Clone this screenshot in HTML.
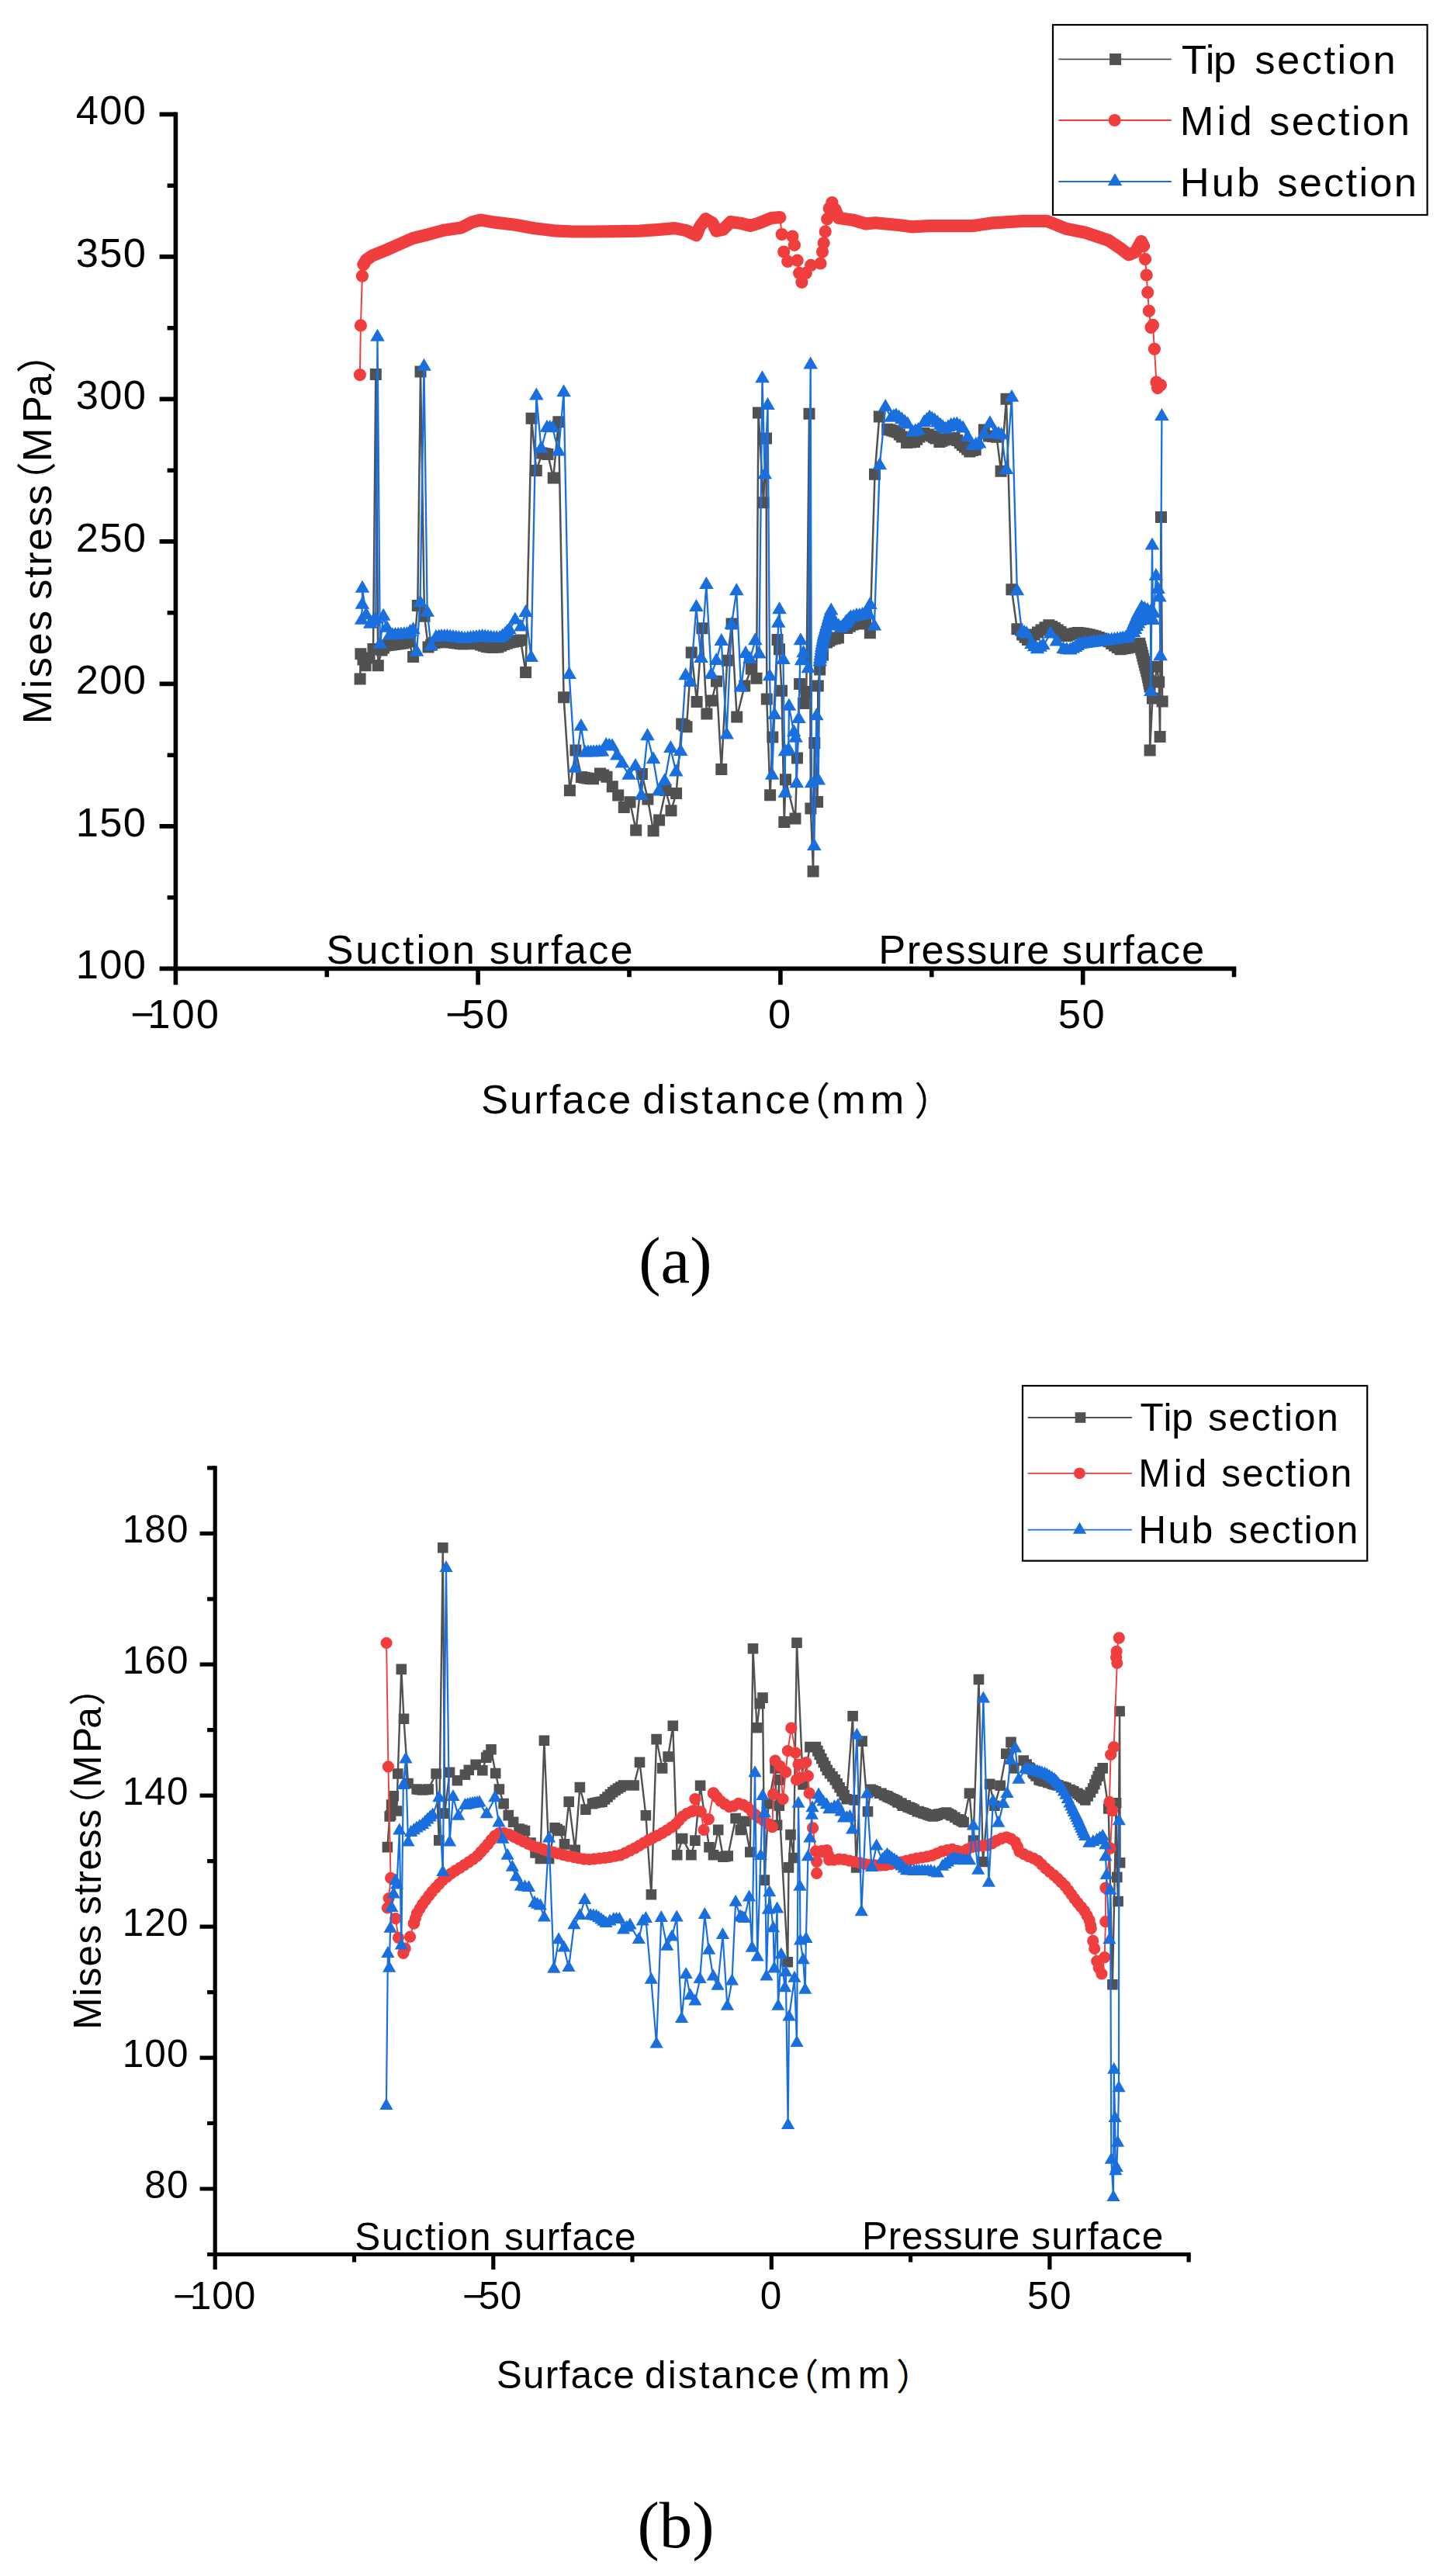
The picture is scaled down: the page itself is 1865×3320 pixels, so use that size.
<!DOCTYPE html>
<html lang="en"><head><meta charset="utf-8"><title>Mises stress distribution</title>
<style>
html,body{margin:0;padding:0;background:#fff}
svg{display:block}
text{font-family:'Liberation Sans','Noto Sans CJK JP',sans-serif;fill:#000;font-kerning:none;font-variant-ligatures:none;white-space:pre}
.cj{font-family:'Liberation Sans','Noto Sans CJK JP',sans-serif}
</style></head><body>
<svg width="1865" height="3320" viewBox="0 0 1865 3320">
<rect width="1865" height="3320" fill="#fff"/>
<g id="chartA">
<g fill="none" stroke="#000" stroke-width="5.6"><path d="M226.4 144.6V1269.2" /><path d="M223.6 1248.4H1593.3" /><path d="M616.1 1248.4v20.8M1005.9 1248.4v20.8M1395.7 1248.4v20.8M421.3 1248.4v10.8M811 1248.4v10.8M1200.8 1248.4v10.8M1590.5 1248.4v10.8M226.4 1248.4h-20.8M226.4 1064.9h-20.8M226.4 881.4h-20.8M226.4 697.9h-20.8M226.4 514.4h-20.8M226.4 330.9h-20.8M226.4 147.4h-20.8M226.4 1156.7h-10.8M226.4 973.2h-10.8M226.4 789.7h-10.8M226.4 606.2h-10.8M226.4 422.7h-10.8M226.4 239.2h-10.8" /></g>
<path d="M464.1 875.1L464.9 842.8L468 850L471.1 857.7L476 848L481 836.5L484.3 482.6L487.3 857.7L492 838L494.5 835L497 832L500.8 831.5L504.5 831L508.2 830.5L512 830L515.8 829.5L519.5 829L523.2 828L527 827L532.6 846.5L538.3 780.6L542 479.1L547 794.3L552 834.1L555.8 831.3L559.5 828.5L563.2 828L567 827.5L570.8 827.5L574.5 827.5L578.2 827.8L582 828L585.8 828.5L589.5 829L593.2 829.5L597 830L600.8 829.8L604.5 829.5L608.2 829L612 828.5L615.8 829.8L619.5 831L623.2 832.2L627 833.5L630.8 834L634.5 834.5L638.2 834.2L642 834L645.8 832.2L649.5 830.5L653.2 829.2L657 828L661.1 827.2L665.2 826.5L668.1 825.8L671 825L677.6 866.4L685.1 539.3L691.3 606.5L698.7 584.1L702.4 584.8L706 585.4L713.2 616L719.9 543.8L726.6 898.7L734.4 1018.8L741.9 967.1L749.4 1001.4L753.2 1002.2L757 1003L760.8 1003.4L764.5 1003.7L773.5 997L777.8 999.1L782 1001.2L789.3 1013.7L796.7 1025L804.3 1040.5L812 1033.8L819.7 1070L827.4 997.5L834.9 1030L842.1 1070.7L849.6 1057L858 1018.6L865 1044.8L871.6 1022.4L878.7 933L881.9 934.9L885 936.7L891.2 841L898.1 904.4L904.9 809.7L910.9 920L917.3 903L923.5 878.1L929.8 991.5L937.2 851.3L943.1 804L949.7 924.1L959.7 884L968.3 862L975 874.3L977.5 532.1L984 647.7L987.5 565.1L988.3 901L992.6 1024.7L995.8 950L1002 824.4L1004.5 836.8L1007.5 890.3L1010.8 1059.5L1012.5 1004.8L1025 1055L1027.5 976.9L1030.6 881.6L1035.6 906.5L1039.3 891.6L1043 533.3L1044.9 1042.1L1048.1 1123L1049.8 957.5L1053.6 1033.4L1054.3 884.1L1056.7 863L1060.5 844.3L1065.4 828.1L1068.7 826L1072 824L1076.2 823L1080.4 821.9L1091.6 809.5L1095.3 807.2L1099 805L1102.8 804.1L1106.5 803.2L1110.2 803.6L1114 804L1121.4 815.7L1127.5 611.2L1133.3 537L1143.7 553.2L1146.8 554.1L1150 555L1153.1 556L1156.2 556.9L1159.3 560L1162.4 563L1168.6 570.6L1173.5 570L1178.5 569.4L1181.8 566.2L1185 563L1188 560.6L1191 558.2L1196 560L1200.9 561.9L1203.5 563.5L1206 565L1210.9 569.4L1214 568.2L1217 567L1220.2 566.3L1223.3 565.6L1226.7 565L1230 564.5L1233.7 567.6L1237.3 570.7L1240.4 573.4L1243.5 576L1246.7 579L1249.8 581.9L1253.5 580.6L1257.2 579.4L1268.4 554L1274.6 562L1279.6 562.6L1284.6 563.2L1290.1 607.3L1297 514.2L1303.9 759.7L1310.9 810.7L1317.7 818L1321.1 821.2L1324.5 824.4L1328.8 821.2L1333 818L1337.5 815L1342 811.9L1347 808.8L1351.9 805.7L1355.7 807.5L1359.4 809.4L1363.2 812L1367 814.5L1370.7 817L1374.3 819.4L1378 818.2L1381.7 817L1385.5 816.3L1389.2 815.6L1393 816L1396.7 816.5L1400.5 817.3L1404.2 818.1L1408.1 819L1412 820L1416 821.5L1420 823L1424.5 824.9L1429 826.8L1432.8 829.4L1436.5 832L1440.2 834.4L1444 836.8L1447 836.1L1450 835.5L1453.2 834.9L1456.4 834.3L1459.5 833.1L1462.6 832L1465.7 830.6L1468.8 829.3L1468.8 829.3L1469.8 833.3L1470.8 837.3L1471.8 841.2L1472.8 845.2L1473.8 849.2L1473.8 849.2L1474.8 853.2L1475.8 857.2L1476.8 861.1L1477.8 865.1L1478.8 869.1L1478.8 869.1L1479.6 873.1L1480.4 877L1481.2 881L1482 885L1482.1 967L1485.4 900L1491.2 859.2L1493.7 879.1L1495.1 949.5L1496.5 666.4L1498.1 903.9" fill="none" stroke="#515151" stroke-width="2.5" stroke-linejoin="round" /><path d="M456.6 867.6h15v15h-15zM457.4 835.3h15v15h-15zM460.5 842.5h15v15h-15zM463.6 850.2h15v15h-15zM468.5 840.5h15v15h-15zM473.5 829h15v15h-15zM476.8 475.1h15v15h-15zM479.8 850.2h15v15h-15zM484.5 830.5h15v15h-15zM487 827.5h15v15h-15zM489.5 824.5h15v15h-15zM493.2 824h15v15h-15zM497 823.5h15v15h-15zM500.8 823h15v15h-15zM504.5 822.5h15v15h-15zM508.2 822h15v15h-15zM512 821.5h15v15h-15zM515.8 820.5h15v15h-15zM519.5 819.5h15v15h-15zM525.1 839h15v15h-15zM530.8 773.1h15v15h-15zM534.5 471.6h15v15h-15zM539.5 786.8h15v15h-15zM544.5 826.6h15v15h-15zM548.2 823.8h15v15h-15zM552 821h15v15h-15zM555.8 820.5h15v15h-15zM559.5 820h15v15h-15zM563.2 820h15v15h-15zM567 820h15v15h-15zM570.8 820.2h15v15h-15zM574.5 820.5h15v15h-15zM578.2 821h15v15h-15zM582 821.5h15v15h-15zM585.8 822h15v15h-15zM589.5 822.5h15v15h-15zM593.2 822.2h15v15h-15zM597 822h15v15h-15zM600.8 821.5h15v15h-15zM604.5 821h15v15h-15zM608.2 822.2h15v15h-15zM612 823.5h15v15h-15zM615.8 824.8h15v15h-15zM619.5 826h15v15h-15zM623.2 826.5h15v15h-15zM627 827h15v15h-15zM630.8 826.8h15v15h-15zM634.5 826.5h15v15h-15zM638.2 824.8h15v15h-15zM642 823h15v15h-15zM645.8 821.8h15v15h-15zM649.5 820.5h15v15h-15zM653.6 819.8h15v15h-15zM657.7 819h15v15h-15zM660.6 818.2h15v15h-15zM663.5 817.5h15v15h-15zM670.1 858.9h15v15h-15zM677.6 531.8h15v15h-15zM683.8 599h15v15h-15zM691.2 576.6h15v15h-15zM694.9 577.2h15v15h-15zM698.5 577.9h15v15h-15zM705.7 608.5h15v15h-15zM712.4 536.3h15v15h-15zM719.1 891.2h15v15h-15zM726.9 1011.3h15v15h-15zM734.4 959.6h15v15h-15zM741.9 993.9h15v15h-15zM745.7 994.7h15v15h-15zM749.5 995.5h15v15h-15zM753.2 995.9h15v15h-15zM757 996.2h15v15h-15zM766 989.5h15v15h-15zM770.2 991.6h15v15h-15zM774.5 993.7h15v15h-15zM781.8 1006.2h15v15h-15zM789.2 1017.5h15v15h-15zM796.8 1033h15v15h-15zM804.5 1026.3h15v15h-15zM812.2 1062.5h15v15h-15zM819.9 990h15v15h-15zM827.4 1022.5h15v15h-15zM834.6 1063.2h15v15h-15zM842.1 1049.5h15v15h-15zM850.5 1011.1h15v15h-15zM857.5 1037.3h15v15h-15zM864.1 1014.9h15v15h-15zM871.2 925.5h15v15h-15zM874.4 927.4h15v15h-15zM877.5 929.2h15v15h-15zM883.7 833.5h15v15h-15zM890.6 896.9h15v15h-15zM897.4 802.2h15v15h-15zM903.4 912.5h15v15h-15zM909.8 895.5h15v15h-15zM916 870.6h15v15h-15zM922.3 984h15v15h-15zM929.7 843.8h15v15h-15zM935.6 796.5h15v15h-15zM942.2 916.6h15v15h-15zM952.2 876.5h15v15h-15zM960.8 854.5h15v15h-15zM967.5 866.8h15v15h-15zM970 524.6h15v15h-15zM976.5 640.2h15v15h-15zM980 557.6h15v15h-15zM980.8 893.5h15v15h-15zM985.1 1017.2h15v15h-15zM988.3 942.5h15v15h-15zM994.5 816.9h15v15h-15zM997 829.3h15v15h-15zM1000 882.8h15v15h-15zM1003.3 1052h15v15h-15zM1005 997.3h15v15h-15zM1017.5 1047.5h15v15h-15zM1020 969.4h15v15h-15zM1023.1 874.1h15v15h-15zM1028.1 899h15v15h-15zM1031.8 884.1h15v15h-15zM1035.5 525.8h15v15h-15zM1037.4 1034.6h15v15h-15zM1040.6 1115.5h15v15h-15zM1042.3 950h15v15h-15zM1046.1 1025.9h15v15h-15zM1046.8 876.6h15v15h-15zM1049.2 855.5h15v15h-15zM1053 836.8h15v15h-15zM1057.9 820.6h15v15h-15zM1061.2 818.5h15v15h-15zM1064.5 816.5h15v15h-15zM1068.7 815.5h15v15h-15zM1072.9 814.4h15v15h-15zM1084.1 802h15v15h-15zM1087.8 799.8h15v15h-15zM1091.5 797.5h15v15h-15zM1095.2 796.6h15v15h-15zM1099 795.7h15v15h-15zM1102.8 796.1h15v15h-15zM1106.5 796.5h15v15h-15zM1113.9 808.2h15v15h-15zM1120 603.7h15v15h-15zM1125.8 529.5h15v15h-15zM1136.2 545.7h15v15h-15zM1139.3 546.6h15v15h-15zM1142.5 547.5h15v15h-15zM1145.6 548.5h15v15h-15zM1148.7 549.4h15v15h-15zM1151.8 552.5h15v15h-15zM1154.9 555.5h15v15h-15zM1161.1 563.1h15v15h-15zM1166 562.5h15v15h-15zM1171 561.9h15v15h-15zM1174.2 558.7h15v15h-15zM1177.5 555.5h15v15h-15zM1180.5 553.1h15v15h-15zM1183.5 550.7h15v15h-15zM1188.5 552.5h15v15h-15zM1193.4 554.4h15v15h-15zM1196 556h15v15h-15zM1198.5 557.5h15v15h-15zM1203.4 561.9h15v15h-15zM1206.5 560.7h15v15h-15zM1209.5 559.5h15v15h-15zM1212.7 558.8h15v15h-15zM1215.8 558.1h15v15h-15zM1219.2 557.5h15v15h-15zM1222.5 557h15v15h-15zM1226.2 560.1h15v15h-15zM1229.8 563.2h15v15h-15zM1232.9 565.9h15v15h-15zM1236 568.5h15v15h-15zM1239.2 571.5h15v15h-15zM1242.3 574.4h15v15h-15zM1246 573.1h15v15h-15zM1249.7 571.9h15v15h-15zM1260.9 546.5h15v15h-15zM1267.1 554.5h15v15h-15zM1272.1 555.1h15v15h-15zM1277.1 555.7h15v15h-15zM1282.6 599.8h15v15h-15zM1289.5 506.7h15v15h-15zM1296.4 752.2h15v15h-15zM1303.4 803.2h15v15h-15zM1310.2 810.5h15v15h-15zM1313.6 813.7h15v15h-15zM1317 816.9h15v15h-15zM1321.2 813.7h15v15h-15zM1325.5 810.5h15v15h-15zM1330 807.5h15v15h-15zM1334.5 804.4h15v15h-15zM1339.5 801.3h15v15h-15zM1344.4 798.2h15v15h-15zM1348.2 800h15v15h-15zM1351.9 801.9h15v15h-15zM1355.7 804.5h15v15h-15zM1359.5 807h15v15h-15zM1363.2 809.5h15v15h-15zM1366.8 811.9h15v15h-15zM1370.5 810.7h15v15h-15zM1374.2 809.5h15v15h-15zM1378 808.8h15v15h-15zM1381.7 808.1h15v15h-15zM1385.5 808.5h15v15h-15zM1389.2 809h15v15h-15zM1393 809.8h15v15h-15zM1396.7 810.6h15v15h-15zM1400.6 811.5h15v15h-15zM1404.5 812.5h15v15h-15zM1408.5 814h15v15h-15zM1412.5 815.5h15v15h-15zM1417 817.4h15v15h-15zM1421.5 819.3h15v15h-15zM1425.2 821.9h15v15h-15zM1429 824.5h15v15h-15zM1432.8 826.9h15v15h-15zM1436.5 829.3h15v15h-15zM1439.5 828.6h15v15h-15zM1442.5 828h15v15h-15zM1445.7 827.4h15v15h-15zM1448.9 826.8h15v15h-15zM1452 825.6h15v15h-15zM1455.1 824.5h15v15h-15zM1458.2 823.1h15v15h-15zM1461.3 821.8h15v15h-15zM1461.3 821.8h15v15h-15zM1462.3 825.8h15v15h-15zM1463.3 829.8h15v15h-15zM1464.3 833.7h15v15h-15zM1465.3 837.7h15v15h-15zM1466.3 841.7h15v15h-15zM1466.3 841.7h15v15h-15zM1467.3 845.7h15v15h-15zM1468.3 849.7h15v15h-15zM1469.3 853.6h15v15h-15zM1470.3 857.6h15v15h-15zM1471.3 861.6h15v15h-15zM1471.3 861.6h15v15h-15zM1472.1 865.6h15v15h-15zM1472.9 869.5h15v15h-15zM1473.7 873.5h15v15h-15zM1474.5 877.5h15v15h-15zM1474.6 959.5h15v15h-15zM1477.9 892.5h15v15h-15zM1483.7 851.7h15v15h-15zM1486.2 871.6h15v15h-15zM1487.6 942h15v15h-15zM1489 658.9h15v15h-15zM1490.6 896.4h15v15h-15z" fill="#515151"/>
<path d="M463.9 483.1L464.9 419.4L466.9 355.7L468.6 340.8L468.6 340.8L472 335L479.8 329.6L492.2 324.6L512.1 315.9L532 307.2L552 302.2L571.9 296.8L594.3 293.5L609.2 286.1L619.1 283.6L634 286.1L663.9 289.8L688.8 294.3L713.7 297.3L738.5 298.5L763.4 298.5L800 298.1L824.9 297.6L849.8 295.9L869.7 294.1L884.6 297.1L897.5 303.3L902 292.1L909.5 282.2L918.2 287.2L923.2 297.6L931.9 295.9L941.8 285.9L954.3 287.7L966.7 290.9L979.1 287.2L994.1 281L1005.3 280.2L1007.7 302.1L1021.4 304.6L1023.9 315.8L1010.2 324.5L1015.2 336.9L1027.6 335.7L1030.1 351.9L1033.4 363.8L1038.8 351.9L1045.1 341.9L1057.5 339.4L1060 324.5L1061.7 313.3L1063.7 298.4L1066.2 282.2L1068.7 268.5L1072.4 261.1L1076.2 269.8L1076.2 269.8L1081.1 281L1098.5 283.4L1116 288.4L1128.4 287.2L1160 290.3L1174.9 292.3L1197.3 291.1L1254.5 291.1L1279.4 287.3L1319.2 284.8L1349.1 284.8L1374 294.8L1398.8 299.8L1428.7 309.7L1443.6 319.7L1454.8 328.4L1463.5 324.6L1471 311L1474 317.2L1476 334.1L1477.7 354.5L1479.2 376.9L1480.9 400.8L1483.5 422L1486 419L1487.9 449.8L1490.4 492.6L1495.9 496.3L1492.1 500" fill="none" stroke="#F03E3E" stroke-width="2" stroke-linejoin="round" /><path d="M455.8 483.1a8.1 8.1 0 1 0 16.2 0a8.1 8.1 0 1 0 -16.2 0zM456.8 419.4a8.1 8.1 0 1 0 16.2 0a8.1 8.1 0 1 0 -16.2 0zM458.8 355.7a8.1 8.1 0 1 0 16.2 0a8.1 8.1 0 1 0 -16.2 0zM460.5 340.8a8.1 8.1 0 1 0 16.2 0a8.1 8.1 0 1 0 -16.2 0z" fill="#F03E3E"/><path d="M468.6 340.8L472 335L479.8 329.6L492.2 324.6L512.1 315.9L532 307.2L552 302.2L571.9 296.8L594.3 293.5L609.2 286.1L619.1 283.6L634 286.1L663.9 289.8L688.8 294.3L713.7 297.3L738.5 298.5L763.4 298.5L800 298.1L824.9 297.6L849.8 295.9L869.7 294.1L884.6 297.1L897.5 303.3L902 292.1L909.5 282.2L918.2 287.2L923.2 297.6L931.9 295.9L941.8 285.9L954.3 287.7L966.7 290.9L979.1 287.2L994.1 281L1005.3 280.2" fill="none" stroke="#F03E3E" stroke-width="16.2" stroke-linejoin="round" stroke-linecap="round"/><path d="M999.6 302.1a8.1 8.1 0 1 0 16.2 0a8.1 8.1 0 1 0 -16.2 0zM1013.3 304.6a8.1 8.1 0 1 0 16.2 0a8.1 8.1 0 1 0 -16.2 0zM1015.8 315.8a8.1 8.1 0 1 0 16.2 0a8.1 8.1 0 1 0 -16.2 0zM1002.1 324.5a8.1 8.1 0 1 0 16.2 0a8.1 8.1 0 1 0 -16.2 0zM1007.1 336.9a8.1 8.1 0 1 0 16.2 0a8.1 8.1 0 1 0 -16.2 0zM1019.5 335.7a8.1 8.1 0 1 0 16.2 0a8.1 8.1 0 1 0 -16.2 0zM1022 351.9a8.1 8.1 0 1 0 16.2 0a8.1 8.1 0 1 0 -16.2 0zM1025.3 363.8a8.1 8.1 0 1 0 16.2 0a8.1 8.1 0 1 0 -16.2 0zM1030.7 351.9a8.1 8.1 0 1 0 16.2 0a8.1 8.1 0 1 0 -16.2 0zM1037 341.9a8.1 8.1 0 1 0 16.2 0a8.1 8.1 0 1 0 -16.2 0zM1049.4 339.4a8.1 8.1 0 1 0 16.2 0a8.1 8.1 0 1 0 -16.2 0zM1051.9 324.5a8.1 8.1 0 1 0 16.2 0a8.1 8.1 0 1 0 -16.2 0zM1053.6 313.3a8.1 8.1 0 1 0 16.2 0a8.1 8.1 0 1 0 -16.2 0zM1055.6 298.4a8.1 8.1 0 1 0 16.2 0a8.1 8.1 0 1 0 -16.2 0zM1058.1 282.2a8.1 8.1 0 1 0 16.2 0a8.1 8.1 0 1 0 -16.2 0zM1060.6 268.5a8.1 8.1 0 1 0 16.2 0a8.1 8.1 0 1 0 -16.2 0zM1064.3 261.1a8.1 8.1 0 1 0 16.2 0a8.1 8.1 0 1 0 -16.2 0zM1068.1 269.8a8.1 8.1 0 1 0 16.2 0a8.1 8.1 0 1 0 -16.2 0z" fill="#F03E3E"/><path d="M1076.2 269.8L1081.1 281L1098.5 283.4L1116 288.4L1128.4 287.2L1160 290.3L1174.9 292.3L1197.3 291.1L1254.5 291.1L1279.4 287.3L1319.2 284.8L1349.1 284.8L1374 294.8L1398.8 299.8L1428.7 309.7L1443.6 319.7L1454.8 328.4L1463.5 324.6L1471 311L1474 317.2" fill="none" stroke="#F03E3E" stroke-width="16.2" stroke-linejoin="round" stroke-linecap="round"/><path d="M1467.9 334.1a8.1 8.1 0 1 0 16.2 0a8.1 8.1 0 1 0 -16.2 0zM1469.6 354.5a8.1 8.1 0 1 0 16.2 0a8.1 8.1 0 1 0 -16.2 0zM1471.1 376.9a8.1 8.1 0 1 0 16.2 0a8.1 8.1 0 1 0 -16.2 0zM1472.8 400.8a8.1 8.1 0 1 0 16.2 0a8.1 8.1 0 1 0 -16.2 0zM1475.4 422a8.1 8.1 0 1 0 16.2 0a8.1 8.1 0 1 0 -16.2 0zM1477.9 419a8.1 8.1 0 1 0 16.2 0a8.1 8.1 0 1 0 -16.2 0zM1479.8 449.8a8.1 8.1 0 1 0 16.2 0a8.1 8.1 0 1 0 -16.2 0zM1482.3 492.6a8.1 8.1 0 1 0 16.2 0a8.1 8.1 0 1 0 -16.2 0zM1487.8 496.3a8.1 8.1 0 1 0 16.2 0a8.1 8.1 0 1 0 -16.2 0zM1484 500a8.1 8.1 0 1 0 16.2 0a8.1 8.1 0 1 0 -16.2 0z" fill="#F03E3E"/>
<path d="M466.1 799.4L466.9 779.5L467 758.4L472 792.7L477.3 804.4L480.8 801.3L484.3 798.2L486.5 434.5L489.8 830.5L494.2 794.5L498.5 809.4L502.2 819.3L505.9 819L509.5 818.7L513.2 818.4L517 818.2L520.8 817.9L524.5 817.7L528.5 814.8L532.6 811.9L537 840.5L541.5 777L546.5 472.4L550.7 789.5L555.7 833L561.9 821.8L565.5 821.2L569 820.7L572.8 820.7L576.5 820.7L580.2 821.2L584 821.7L587.8 822.2L591.5 822.7L595.2 823.2L599 823.7L602.8 823.2L606.5 822.7L610.2 822.2L614 821.7L617.8 821.2L621.5 820.7L625.2 821.2L629 821.7L632.8 822.2L636.5 822.7L640.2 822.7L644 822.7L647.5 820.2L651 817.7L653.7 814.8L656.4 811.9L663.9 799.2L671.4 808.1L677.6 789.7L684.6 847.7L691.3 510.2L697.5 578.1L705 551.5L708.7 551.7L712.4 552L719.9 582.3L726.6 505.9L733.7 869.7L741.4 990.4L748.9 936.5L754.3 970.5L757.9 970.3L761.5 970.2L765.2 969.9L769 969.7L772.5 969.5L776 969.3L781.2 960.6L785.2 961.4L789.2 962.3L795.4 974.1L802 984.2L810.6 999.5L819 987.7L826.6 1025.7L834.5 948.9L842 979L849 1020.1L856.7 1007L864.4 964.7L871.3 995.2L877.2 968.7L883.7 871L889.9 879.7L897.4 782.7L903.6 848.6L910.4 753.7L916.8 869.7L923.3 851.7L929.8 826.7L936.6 947.3L942.8 805.5L949.3 761.9L955 886.3L961 842.7L966.5 849.7L973.4 826L978.4 843.3L982.5 488L985.7 611.9L989.5 522.8L992.1 871.9L995.1 999.5L998.3 921.6L1003.2 803.5L1004.5 786L1009.5 850.7L1011.8 1022.4L1012 968.9L1016.3 966.4L1016.9 910.4L1023.2 944L1025.6 951.5L1026.7 1010L1029.4 926.6L1031.9 825.9L1033.1 852L1035.6 842L1041.8 861.9L1044.7 470.1L1046.1 1010L1049.3 1090.8L1052.3 922.9L1054.8 1006.2L1056.7 853.2L1056.7 853.2L1057.2 849.4L1057.7 845.7L1058.2 842L1058.7 838.3L1059.2 834.6L1059.2 834.6L1059.8 831.1L1060.5 827.7L1061.1 824.3L1061.7 820.9L1061.7 820.9L1062.6 817.4L1063.6 814L1064.5 810.6L1065.4 807.2L1065.4 807.2L1066.6 803.2L1067.7 799.2L1068 802.7L1068.9 795.2L1070 791.2L1071.1 802.4L1071.2 787.3L1071.2 787.3L1074.2 802.2L1074.2 802.2L1077.5 804.7L1080.8 807.2L1084.1 809.7L1084.1 809.7L1086.6 806.9L1089.1 804.2L1090 802.7L1091.5 801.4L1094 798.7L1096.5 796L1096.5 796L1100.2 795.2L1104 793.7L1104 794.5L1107.8 793.8L1111.5 792.7L1111.5 793.1L1115.2 792.4L1119 791.7L1119 791.7L1121.4 779.8L1126.9 807.2L1133.8 599.9L1141.2 524.8L1148.7 538.5L1151.8 537.2L1154.9 536L1158.7 538.5L1162.4 541L1166.1 544.1L1169.8 547.2L1176.1 557.1L1179.8 555.9L1183.5 554.7L1191 544.7L1194.5 541.6L1198 538.5L1201.3 540.3L1204.7 542.2L1208.4 545.3L1212.1 548.4L1215.2 550.9L1218.4 553.4L1222.1 550.9L1225.8 548.4L1229.6 547.8L1233.4 547.2L1237.2 549.7L1241.1 552.3L1247.3 563.5L1253.5 574.7L1257.8 573.4L1262.2 572.2L1268.4 559.7L1275.9 546L1283.3 558.5L1287 559.7L1290.8 561L1297 605.8L1304 512.5L1310.9 761.9L1317.1 814.6L1320.2 815.8L1323.3 817.1L1329.5 830.8L1333.2 833.9L1337 837L1340.7 834.5L1344.4 832L1353.9 817.1L1361.9 827.1L1370.6 837L1374.9 837.6L1379.3 838.2L1382.7 836.4L1386 834.7L1388.8 832.7L1391.7 830.8L1395.3 830.2L1399 829.7L1402.8 829.2L1406.5 828.7L1410.2 828.2L1414 827.7L1417.8 827.2L1421.5 826.7L1425.2 826.2L1429 825.7L1432.8 825.2L1436.5 824.7L1440.2 824.2L1444 823.7L1444 823.7L1447.3 823.1L1450.6 822.6L1453.9 822.1L1453.9 822.1L1455.4 818.6L1456.9 815.1L1458.4 811.6L1459.9 808.1L1461 815.7L1461.4 804.7L1461.4 804.7L1463 811.7L1463.1 800.7L1464.8 796.7L1465 807.7L1466.5 792.7L1466.5 792.7L1467 804.2L1468.2 789.5L1469 800.7L1469.8 786.3L1471.5 783.2L1471.5 783.2L1471.5 799.2L1474 797.7L1475.2 784.9L1477 798.2L1479 786.7L1479 786.7L1480 798.7L1483 788.7L1483 799.2L1483.3 891.7L1485 703.2L1486 799.7L1487 790.7L1487 790.7L1490 742.7L1492.6 759.7L1494.4 770.2L1495.6 846L1497.4 536.7" fill="none" stroke="#1A6FDF" stroke-width="2.3" stroke-linejoin="round" /><path d="M466.1 788.7l9.3 16h-18.6zM466.9 768.8l9.3 16h-18.6zM467 747.7l9.3 16h-18.6zM472 782l9.3 16h-18.6zM477.3 793.7l9.3 16h-18.6zM480.8 790.6l9.3 16h-18.6zM484.3 787.5l9.3 16h-18.6zM486.5 423.8l9.3 16h-18.6zM489.8 819.8l9.3 16h-18.6zM494.2 783.8l9.3 16h-18.6zM498.5 798.7l9.3 16h-18.6zM502.2 808.6l9.3 16h-18.6zM505.9 808.3l9.3 16h-18.6zM509.5 808l9.3 16h-18.6zM513.2 807.8l9.3 16h-18.6zM517 807.5l9.3 16h-18.6zM520.8 807.2l9.3 16h-18.6zM524.5 807l9.3 16h-18.6zM528.5 804.1l9.3 16h-18.6zM532.6 801.2l9.3 16h-18.6zM537 829.8l9.3 16h-18.6zM541.5 766.3l9.3 16h-18.6zM546.5 461.7l9.3 16h-18.6zM550.7 778.8l9.3 16h-18.6zM555.7 822.3l9.3 16h-18.6zM561.9 811.1l9.3 16h-18.6zM565.5 810.5l9.3 16h-18.6zM569 810l9.3 16h-18.6zM572.8 810l9.3 16h-18.6zM576.5 810l9.3 16h-18.6zM580.2 810.5l9.3 16h-18.6zM584 811l9.3 16h-18.6zM587.8 811.5l9.3 16h-18.6zM591.5 812l9.3 16h-18.6zM595.2 812.5l9.3 16h-18.6zM599 813l9.3 16h-18.6zM602.8 812.5l9.3 16h-18.6zM606.5 812l9.3 16h-18.6zM610.2 811.5l9.3 16h-18.6zM614 811l9.3 16h-18.6zM617.8 810.5l9.3 16h-18.6zM621.5 810l9.3 16h-18.6zM625.2 810.5l9.3 16h-18.6zM629 811l9.3 16h-18.6zM632.8 811.5l9.3 16h-18.6zM636.5 812l9.3 16h-18.6zM640.2 812l9.3 16h-18.6zM644 812l9.3 16h-18.6zM647.5 809.5l9.3 16h-18.6zM651 807l9.3 16h-18.6zM653.7 804.1l9.3 16h-18.6zM656.4 801.2l9.3 16h-18.6zM663.9 788.5l9.3 16h-18.6zM671.4 797.4l9.3 16h-18.6zM677.6 779l9.3 16h-18.6zM684.6 837l9.3 16h-18.6zM691.3 499.5l9.3 16h-18.6zM697.5 567.4l9.3 16h-18.6zM705 540.8l9.3 16h-18.6zM708.7 541l9.3 16h-18.6zM712.4 541.3l9.3 16h-18.6zM719.9 571.6l9.3 16h-18.6zM726.6 495.2l9.3 16h-18.6zM733.7 859l9.3 16h-18.6zM741.4 979.7l9.3 16h-18.6zM748.9 925.8l9.3 16h-18.6zM754.3 959.8l9.3 16h-18.6zM757.9 959.6l9.3 16h-18.6zM761.5 959.5l9.3 16h-18.6zM765.2 959.2l9.3 16h-18.6zM769 959l9.3 16h-18.6zM772.5 958.8l9.3 16h-18.6zM776 958.6l9.3 16h-18.6zM781.2 949.9l9.3 16h-18.6zM785.2 950.8l9.3 16h-18.6zM789.2 951.6l9.3 16h-18.6zM795.4 963.4l9.3 16h-18.6zM802 973.5l9.3 16h-18.6zM810.6 988.8l9.3 16h-18.6zM819 977l9.3 16h-18.6zM826.6 1015l9.3 16h-18.6zM834.5 938.2l9.3 16h-18.6zM842 968.3l9.3 16h-18.6zM849 1009.4l9.3 16h-18.6zM856.7 996.3l9.3 16h-18.6zM864.4 954l9.3 16h-18.6zM871.3 984.5l9.3 16h-18.6zM877.2 958l9.3 16h-18.6zM883.7 860.3l9.3 16h-18.6zM889.9 869l9.3 16h-18.6zM897.4 772l9.3 16h-18.6zM903.6 837.9l9.3 16h-18.6zM910.4 743l9.3 16h-18.6zM916.8 859l9.3 16h-18.6zM923.3 841l9.3 16h-18.6zM929.8 816l9.3 16h-18.6zM936.6 936.6l9.3 16h-18.6zM942.8 794.8l9.3 16h-18.6zM949.3 751.2l9.3 16h-18.6zM955 875.6l9.3 16h-18.6zM961 832l9.3 16h-18.6zM966.5 839l9.3 16h-18.6zM973.4 815.3l9.3 16h-18.6zM978.4 832.6l9.3 16h-18.6zM982.5 477.3l9.3 16h-18.6zM985.7 601.2l9.3 16h-18.6zM989.5 512.1l9.3 16h-18.6zM992.1 861.2l9.3 16h-18.6zM995.1 988.8l9.3 16h-18.6zM998.3 910.9l9.3 16h-18.6zM1003.2 792.8l9.3 16h-18.6zM1004.5 775.3l9.3 16h-18.6zM1009.5 840l9.3 16h-18.6zM1011.8 1011.7l9.3 16h-18.6zM1012 958.2l9.3 16h-18.6zM1016.3 955.7l9.3 16h-18.6zM1016.9 899.7l9.3 16h-18.6zM1023.2 933.3l9.3 16h-18.6zM1025.6 940.8l9.3 16h-18.6zM1026.7 999.3l9.3 16h-18.6zM1029.4 915.9l9.3 16h-18.6zM1031.9 815.2l9.3 16h-18.6zM1033.1 841.3l9.3 16h-18.6zM1035.6 831.3l9.3 16h-18.6zM1041.8 851.2l9.3 16h-18.6zM1044.7 459.4l9.3 16h-18.6zM1046.1 999.3l9.3 16h-18.6zM1049.3 1080.1l9.3 16h-18.6zM1052.3 912.2l9.3 16h-18.6zM1054.8 995.5l9.3 16h-18.6zM1056.7 842.5l9.3 16h-18.6zM1056.7 842.5l9.3 16h-18.6zM1057.2 838.8l9.3 16h-18.6zM1057.7 835.1l9.3 16h-18.6zM1058.2 831.3l9.3 16h-18.6zM1058.7 827.6l9.3 16h-18.6zM1059.2 823.9l9.3 16h-18.6zM1059.2 823.9l9.3 16h-18.6zM1059.8 820.5l9.3 16h-18.6zM1060.5 817l9.3 16h-18.6zM1061.1 813.6l9.3 16h-18.6zM1061.7 810.2l9.3 16h-18.6zM1061.7 810.2l9.3 16h-18.6zM1062.6 806.8l9.3 16h-18.6zM1063.6 803.4l9.3 16h-18.6zM1064.5 799.9l9.3 16h-18.6zM1065.4 796.5l9.3 16h-18.6zM1065.4 796.5l9.3 16h-18.6zM1066.6 792.5l9.3 16h-18.6zM1067.7 788.5l9.3 16h-18.6zM1068 792l9.3 16h-18.6zM1068.9 784.6l9.3 16h-18.6zM1070 780.6l9.3 16h-18.6zM1071.1 791.8l9.3 16h-18.6zM1071.2 776.6l9.3 16h-18.6zM1071.2 776.6l9.3 16h-18.6zM1074.2 791.5l9.3 16h-18.6zM1074.2 791.5l9.3 16h-18.6zM1077.5 794l9.3 16h-18.6zM1080.8 796.5l9.3 16h-18.6zM1084.1 799l9.3 16h-18.6zM1084.1 799l9.3 16h-18.6zM1086.6 796.3l9.3 16h-18.6zM1089.1 793.5l9.3 16h-18.6zM1090 792l9.3 16h-18.6zM1091.5 790.8l9.3 16h-18.6zM1094 788l9.3 16h-18.6zM1096.5 785.3l9.3 16h-18.6zM1096.5 785.3l9.3 16h-18.6zM1100.2 784.6l9.3 16h-18.6zM1104 783l9.3 16h-18.6zM1104 783.9l9.3 16h-18.6zM1107.8 783.1l9.3 16h-18.6zM1111.5 782l9.3 16h-18.6zM1111.5 782.4l9.3 16h-18.6zM1115.2 781.7l9.3 16h-18.6zM1119 781l9.3 16h-18.6zM1119 781l9.3 16h-18.6zM1121.4 769.1l9.3 16h-18.6zM1126.9 796.5l9.3 16h-18.6zM1133.8 589.2l9.3 16h-18.6zM1141.2 514.1l9.3 16h-18.6zM1148.7 527.8l9.3 16h-18.6zM1151.8 526.5l9.3 16h-18.6zM1154.9 525.3l9.3 16h-18.6zM1158.7 527.8l9.3 16h-18.6zM1162.4 530.3l9.3 16h-18.6zM1166.1 533.4l9.3 16h-18.6zM1169.8 536.5l9.3 16h-18.6zM1176.1 546.4l9.3 16h-18.6zM1179.8 545.2l9.3 16h-18.6zM1183.5 544l9.3 16h-18.6zM1191 534l9.3 16h-18.6zM1194.5 530.9l9.3 16h-18.6zM1198 527.8l9.3 16h-18.6zM1201.3 529.6l9.3 16h-18.6zM1204.7 531.5l9.3 16h-18.6zM1208.4 534.6l9.3 16h-18.6zM1212.1 537.7l9.3 16h-18.6zM1215.2 540.2l9.3 16h-18.6zM1218.4 542.7l9.3 16h-18.6zM1222.1 540.2l9.3 16h-18.6zM1225.8 537.7l9.3 16h-18.6zM1229.6 537.1l9.3 16h-18.6zM1233.4 536.5l9.3 16h-18.6zM1237.2 539l9.3 16h-18.6zM1241.1 541.6l9.3 16h-18.6zM1247.3 552.8l9.3 16h-18.6zM1253.5 564l9.3 16h-18.6zM1257.8 562.8l9.3 16h-18.6zM1262.2 561.5l9.3 16h-18.6zM1268.4 549l9.3 16h-18.6zM1275.9 535.3l9.3 16h-18.6zM1283.3 547.8l9.3 16h-18.6zM1287 549l9.3 16h-18.6zM1290.8 550.3l9.3 16h-18.6zM1297 595.1l9.3 16h-18.6zM1304 501.8l9.3 16h-18.6zM1310.9 751.2l9.3 16h-18.6zM1317.1 803.9l9.3 16h-18.6zM1320.2 805.1l9.3 16h-18.6zM1323.3 806.4l9.3 16h-18.6zM1329.5 820.1l9.3 16h-18.6zM1333.2 823.2l9.3 16h-18.6zM1337 826.3l9.3 16h-18.6zM1340.7 823.8l9.3 16h-18.6zM1344.4 821.3l9.3 16h-18.6zM1353.9 806.4l9.3 16h-18.6zM1361.9 816.4l9.3 16h-18.6zM1370.6 826.3l9.3 16h-18.6zM1374.9 826.9l9.3 16h-18.6zM1379.3 827.5l9.3 16h-18.6zM1382.7 825.8l9.3 16h-18.6zM1386 824l9.3 16h-18.6zM1388.8 822l9.3 16h-18.6zM1391.7 820.1l9.3 16h-18.6zM1395.3 819.5l9.3 16h-18.6zM1399 819l9.3 16h-18.6zM1402.8 818.5l9.3 16h-18.6zM1406.5 818l9.3 16h-18.6zM1410.2 817.5l9.3 16h-18.6zM1414 817l9.3 16h-18.6zM1417.8 816.5l9.3 16h-18.6zM1421.5 816l9.3 16h-18.6zM1425.2 815.5l9.3 16h-18.6zM1429 815l9.3 16h-18.6zM1432.8 814.5l9.3 16h-18.6zM1436.5 814l9.3 16h-18.6zM1440.2 813.5l9.3 16h-18.6zM1444 813l9.3 16h-18.6zM1444 813l9.3 16h-18.6zM1447.3 812.5l9.3 16h-18.6zM1450.6 811.9l9.3 16h-18.6zM1453.9 811.4l9.3 16h-18.6zM1453.9 811.4l9.3 16h-18.6zM1455.4 807.9l9.3 16h-18.6zM1456.9 804.4l9.3 16h-18.6zM1458.4 801l9.3 16h-18.6zM1459.9 797.5l9.3 16h-18.6zM1461 805l9.3 16h-18.6zM1461.4 794l9.3 16h-18.6zM1461.4 794l9.3 16h-18.6zM1463 801l9.3 16h-18.6zM1463.1 790l9.3 16h-18.6zM1464.8 786l9.3 16h-18.6zM1465 797l9.3 16h-18.6zM1466.5 782l9.3 16h-18.6zM1466.5 782l9.3 16h-18.6zM1467 793.5l9.3 16h-18.6zM1468.2 778.8l9.3 16h-18.6zM1469 790l9.3 16h-18.6zM1469.8 775.7l9.3 16h-18.6zM1471.5 772.5l9.3 16h-18.6zM1471.5 772.5l9.3 16h-18.6zM1471.5 788.5l9.3 16h-18.6zM1474 787l9.3 16h-18.6zM1475.2 774.2l9.3 16h-18.6zM1477 787.5l9.3 16h-18.6zM1479 776l9.3 16h-18.6zM1479 776l9.3 16h-18.6zM1480 788l9.3 16h-18.6zM1483 778l9.3 16h-18.6zM1483 788.5l9.3 16h-18.6zM1483.3 881l9.3 16h-18.6zM1485 692.5l9.3 16h-18.6zM1486 789l9.3 16h-18.6zM1487 780l9.3 16h-18.6zM1487 780l9.3 16h-18.6zM1490 732l9.3 16h-18.6zM1492.6 749l9.3 16h-18.6zM1494.4 759.5l9.3 16h-18.6zM1495.6 835.3l9.3 16h-18.6zM1497.4 526l9.3 16h-18.6z" fill="#1A6FDF"/>
</g>
<g id="chartB">
<g fill="none" stroke="#000" stroke-width="5.2"><path d="M277.2 1889.2V2925.1" /><path d="M274.6 2905.5H1534.7" /><path d="M635.8 2905.5v19.6M994.3 2905.5v19.6M1352.9 2905.5v19.6M456.5 2905.5v10.1M815 2905.5v10.1M1173.6 2905.5v10.1M1532.1 2905.5v10.1M277.2 2821h-19.6M277.2 2652.1h-19.6M277.2 2483.1h-19.6M277.2 2314.2h-19.6M277.2 2145.2h-19.6M277.2 1976.3h-19.6M277.2 2905.5h-10.1M277.2 2736.5h-10.1M277.2 2567.6h-10.1M277.2 2398.7h-10.1M277.2 2229.7h-10.1M277.2 2060.8h-10.1M277.2 1891.8h-10.1" /></g>
<path d="M499.4 2380.6L502.2 2341L503.6 2339.6L504.6 2326L507.3 2314.7L511.4 2334L512.8 2286L517.3 2151.4L520.5 2215.3L526 2298.5L537.2 2306L540.9 2306.5L544.6 2307L548.4 2306.5L552.1 2306L562.1 2286L565.8 2371.9L570.8 1994.8L573.2 2337.1L579.5 2284.3L589.4 2294.8L599.4 2287.3L604.3 2281.2L613.1 2274.4L621.8 2281.8L626.7 2265.1L629.2 2262.4L633 2254.7L638.7 2285.5L643.4 2306L649.1 2324.6L655.3 2339.6L661.6 2348.3L669 2357L672.8 2358.2L676.5 2359.5L684 2375L690 2388L696.4 2395.5L701.4 2243.2L707.6 2395.5L715.1 2355.7L718.2 2357.6L721.3 2359.5L727.5 2376.9L733.2 2322.1L741.2 2384.3L747.4 2303.5L754.9 2332.1L763.6 2324.6L766.8 2323.8L770 2323L773 2322.6L776 2322.1L779.5 2319.1L783 2316L786.4 2312.8L789.7 2309.7L793.1 2307.3L796.5 2305L800 2303L803.4 2301L806.7 2301L810 2301L813.5 2301L817.1 2301L824.5 2271.2L832.4 2339.8L839.4 2441.8L846.1 2241.6L853.6 2278.9L861.1 2264L867.3 2224.2L872.7 2390.8L879.7 2369.6L890.9 2390.8L895.9 2372.1L902.6 2301.2L914 2380.8L919.5 2390.8L925.7 2358.4L932 2393.2L935.1 2392.6L938.2 2392L948.1 2343.5L954.3 2358.4L959.3 2347.2L966.8 2387L970.5 2124.7L975.5 2226.7L979.2 2195.6L983 2188.1L985.4 2423.1L990.4 2324.8L999.1 2278.9L1001.6 2352.2L1004.1 2293.9L1004.3 2327.3L1015.3 2528.8L1016.5 2406.9L1019 2364.6L1022.8 2394.5L1027 2117.2L1035 2300L1043.9 2251.6L1043.9 2251.6L1047.7 2251.6L1051.4 2251.6L1051.4 2251.6L1053.9 2256.6L1056.3 2261.5L1058.8 2266.5L1058.8 2266.5L1061.3 2271.5L1063.8 2276.4L1066.3 2281.4L1066.3 2281.4L1069.6 2285.6L1073 2289.7L1076.3 2293.9L1076.3 2293.9L1079.2 2298.9L1082.1 2303.8L1085 2308.8L1085 2308.8L1088.1 2313.8L1091.2 2318.7L1091.2 2318.7L1099.1 2211.8L1101.1 2319.9L1103.6 2406.9L1111.1 2244.1L1118.5 2334.8L1122.3 2306.3L1122.3 2306.3L1125.2 2307.5L1128 2308.8L1129 2309L1133.7 2311.3L1136 2311.3L1139.5 2313.7L1143.4 2314.9L1145.2 2316.2L1148 2317.5L1150.9 2318.7L1150.9 2318.7L1153.6 2320.1L1156.4 2321.4L1157 2323L1161.9 2324.1L1163.3 2327.3L1167.3 2326.9L1170 2329L1172.8 2329.6L1175.6 2330.9L1178.3 2332.3L1178.3 2332.3L1182.3 2334.8L1184.3 2334.5L1187.1 2335.7L1190 2337L1190.2 2336.7L1193.1 2337.8L1196 2339L1196.2 2338.8L1199.2 2339.9L1202.2 2341L1202.2 2341L1205.1 2340.2L1208 2339.3L1210 2338L1213.9 2337.7L1216.8 2336.8L1219.7 2336L1219.7 2336L1222.5 2337.6L1225.3 2339.1L1227 2340L1230.9 2342.2L1234.6 2344.7L1236.5 2345.4L1239.3 2346.9L1242.1 2348.5L1242.1 2348.5L1249.5 2311.2L1254.5 2372.1L1261.5 2164.5L1266.9 2399.5L1275.6 2299.4L1281.9 2327.3L1289.3 2301.2L1296.8 2260.3L1303 2245.4L1306.7 2278.9L1319.2 2269L1319.2 2269L1323.2 2274L1326 2278L1327.2 2279L1331.1 2283.9L1332.5 2286L1335.1 2288.9L1339.1 2293.9L1339.1 2293.9L1342 2294.8L1344.9 2295.6L1347 2296L1350.7 2297.4L1355 2298L1356.5 2299.1L1359.4 2300L1362.3 2300.8L1364 2301L1368.1 2302.6L1371 2303.4L1373.9 2304.3L1373.9 2304.3L1378.9 2306.6L1381 2308L1383.8 2308.9L1388.8 2311.2L1388.8 2311.2L1391.3 2313.4L1393.8 2315.6L1396.3 2317.7L1398.8 2319.9L1398.8 2319.9L1402.1 2314.9L1405.4 2310L1408.7 2305L1408.7 2305L1410.9 2299.7L1413.1 2294.4L1415.2 2289.2L1417.4 2283.9L1417.4 2283.9L1421.2 2278.9L1421.2 2278.9L1428.7 2331L1433.9 2557.8L1438.6 2323.7L1439.8 2419.4L1441.1 2450.5L1443.1 2205.5L1443.6 2400.7" fill="none" stroke="#515151" stroke-width="2.4" stroke-linejoin="round" /><path d="M492.6 2373.8h13.6v13.6h-13.6zM495.4 2334.2h13.6v13.6h-13.6zM496.8 2332.8h13.6v13.6h-13.6zM497.8 2319.2h13.6v13.6h-13.6zM500.5 2307.9h13.6v13.6h-13.6zM504.6 2327.2h13.6v13.6h-13.6zM506 2279.2h13.6v13.6h-13.6zM510.5 2144.6h13.6v13.6h-13.6zM513.7 2208.5h13.6v13.6h-13.6zM519.2 2291.7h13.6v13.6h-13.6zM530.4 2299.2h13.6v13.6h-13.6zM534.1 2299.7h13.6v13.6h-13.6zM537.8 2300.2h13.6v13.6h-13.6zM541.6 2299.7h13.6v13.6h-13.6zM545.3 2299.2h13.6v13.6h-13.6zM555.3 2279.2h13.6v13.6h-13.6zM559 2365.1h13.6v13.6h-13.6zM564 1988h13.6v13.6h-13.6zM566.4 2330.3h13.6v13.6h-13.6zM572.7 2277.5h13.6v13.6h-13.6zM582.6 2288h13.6v13.6h-13.6zM592.6 2280.5h13.6v13.6h-13.6zM597.5 2274.4h13.6v13.6h-13.6zM606.3 2267.6h13.6v13.6h-13.6zM615 2275h13.6v13.6h-13.6zM619.9 2258.3h13.6v13.6h-13.6zM622.4 2255.6h13.6v13.6h-13.6zM626.2 2247.9h13.6v13.6h-13.6zM631.9 2278.7h13.6v13.6h-13.6zM636.6 2299.2h13.6v13.6h-13.6zM642.3 2317.8h13.6v13.6h-13.6zM648.5 2332.8h13.6v13.6h-13.6zM654.8 2341.5h13.6v13.6h-13.6zM662.2 2350.2h13.6v13.6h-13.6zM666 2351.4h13.6v13.6h-13.6zM669.7 2352.7h13.6v13.6h-13.6zM677.2 2368.2h13.6v13.6h-13.6zM683.2 2381.2h13.6v13.6h-13.6zM689.6 2388.7h13.6v13.6h-13.6zM694.6 2236.4h13.6v13.6h-13.6zM700.8 2388.7h13.6v13.6h-13.6zM708.3 2348.9h13.6v13.6h-13.6zM711.4 2350.8h13.6v13.6h-13.6zM714.5 2352.7h13.6v13.6h-13.6zM720.7 2370.1h13.6v13.6h-13.6zM726.4 2315.3h13.6v13.6h-13.6zM734.4 2377.5h13.6v13.6h-13.6zM740.6 2296.7h13.6v13.6h-13.6zM748.1 2325.3h13.6v13.6h-13.6zM756.8 2317.8h13.6v13.6h-13.6zM760 2317h13.6v13.6h-13.6zM763.2 2316.2h13.6v13.6h-13.6zM766.2 2315.8h13.6v13.6h-13.6zM769.2 2315.3h13.6v13.6h-13.6zM772.7 2312.2h13.6v13.6h-13.6zM776.2 2309.2h13.6v13.6h-13.6zM779.6 2306h13.6v13.6h-13.6zM782.9 2302.9h13.6v13.6h-13.6zM786.3 2300.5h13.6v13.6h-13.6zM789.7 2298.2h13.6v13.6h-13.6zM793.2 2296.2h13.6v13.6h-13.6zM796.6 2294.2h13.6v13.6h-13.6zM799.9 2294.2h13.6v13.6h-13.6zM803.2 2294.2h13.6v13.6h-13.6zM806.8 2294.2h13.6v13.6h-13.6zM810.3 2294.2h13.6v13.6h-13.6zM817.7 2264.4h13.6v13.6h-13.6zM825.6 2333h13.6v13.6h-13.6zM832.6 2435h13.6v13.6h-13.6zM839.3 2234.8h13.6v13.6h-13.6zM846.8 2272.1h13.6v13.6h-13.6zM854.3 2257.2h13.6v13.6h-13.6zM860.5 2217.4h13.6v13.6h-13.6zM865.9 2384h13.6v13.6h-13.6zM872.9 2362.8h13.6v13.6h-13.6zM884.1 2384h13.6v13.6h-13.6zM889.1 2365.3h13.6v13.6h-13.6zM895.8 2294.4h13.6v13.6h-13.6zM907.2 2374h13.6v13.6h-13.6zM912.7 2384h13.6v13.6h-13.6zM918.9 2351.6h13.6v13.6h-13.6zM925.2 2386.4h13.6v13.6h-13.6zM928.3 2385.8h13.6v13.6h-13.6zM931.4 2385.2h13.6v13.6h-13.6zM941.3 2336.7h13.6v13.6h-13.6zM947.5 2351.6h13.6v13.6h-13.6zM952.5 2340.4h13.6v13.6h-13.6zM960 2380.2h13.6v13.6h-13.6zM963.7 2117.9h13.6v13.6h-13.6zM968.7 2219.9h13.6v13.6h-13.6zM972.4 2188.8h13.6v13.6h-13.6zM976.2 2181.3h13.6v13.6h-13.6zM978.6 2416.3h13.6v13.6h-13.6zM983.6 2318h13.6v13.6h-13.6zM992.3 2272.1h13.6v13.6h-13.6zM994.8 2345.4h13.6v13.6h-13.6zM997.3 2287.1h13.6v13.6h-13.6zM997.5 2320.5h13.6v13.6h-13.6zM1008.5 2522h13.6v13.6h-13.6zM1009.7 2400.1h13.6v13.6h-13.6zM1012.2 2357.8h13.6v13.6h-13.6zM1016 2387.7h13.6v13.6h-13.6zM1020.2 2110.4h13.6v13.6h-13.6zM1028.2 2293.2h13.6v13.6h-13.6zM1037.1 2244.8h13.6v13.6h-13.6zM1037.1 2244.8h13.6v13.6h-13.6zM1040.9 2244.8h13.6v13.6h-13.6zM1044.6 2244.8h13.6v13.6h-13.6zM1044.6 2244.8h13.6v13.6h-13.6zM1047.1 2249.8h13.6v13.6h-13.6zM1049.5 2254.7h13.6v13.6h-13.6zM1052 2259.7h13.6v13.6h-13.6zM1052 2259.7h13.6v13.6h-13.6zM1054.5 2264.7h13.6v13.6h-13.6zM1057 2269.6h13.6v13.6h-13.6zM1059.5 2274.6h13.6v13.6h-13.6zM1059.5 2274.6h13.6v13.6h-13.6zM1062.8 2278.8h13.6v13.6h-13.6zM1066.2 2282.9h13.6v13.6h-13.6zM1069.5 2287.1h13.6v13.6h-13.6zM1069.5 2287.1h13.6v13.6h-13.6zM1072.4 2292.1h13.6v13.6h-13.6zM1075.3 2297h13.6v13.6h-13.6zM1078.2 2302h13.6v13.6h-13.6zM1078.2 2302h13.6v13.6h-13.6zM1081.3 2306.9h13.6v13.6h-13.6zM1084.4 2311.9h13.6v13.6h-13.6zM1084.4 2311.9h13.6v13.6h-13.6zM1092.3 2205h13.6v13.6h-13.6zM1094.3 2313.1h13.6v13.6h-13.6zM1096.8 2400.1h13.6v13.6h-13.6zM1104.3 2237.3h13.6v13.6h-13.6zM1111.7 2328h13.6v13.6h-13.6zM1115.5 2299.5h13.6v13.6h-13.6zM1115.5 2299.5h13.6v13.6h-13.6zM1118.4 2300.7h13.6v13.6h-13.6zM1121.2 2302h13.6v13.6h-13.6zM1122.2 2302.2h13.6v13.6h-13.6zM1126.9 2304.5h13.6v13.6h-13.6zM1129.2 2304.5h13.6v13.6h-13.6zM1132.7 2306.9h13.6v13.6h-13.6zM1136.6 2308.1h13.6v13.6h-13.6zM1138.4 2309.4h13.6v13.6h-13.6zM1141.2 2310.7h13.6v13.6h-13.6zM1144.1 2311.9h13.6v13.6h-13.6zM1144.1 2311.9h13.6v13.6h-13.6zM1146.8 2313.3h13.6v13.6h-13.6zM1149.6 2314.6h13.6v13.6h-13.6zM1150.2 2316.2h13.6v13.6h-13.6zM1155.1 2317.3h13.6v13.6h-13.6zM1156.5 2320.5h13.6v13.6h-13.6zM1160.5 2320.1h13.6v13.6h-13.6zM1163.2 2322.2h13.6v13.6h-13.6zM1166 2322.8h13.6v13.6h-13.6zM1168.8 2324.1h13.6v13.6h-13.6zM1171.5 2325.5h13.6v13.6h-13.6zM1171.5 2325.5h13.6v13.6h-13.6zM1175.5 2328h13.6v13.6h-13.6zM1177.5 2327.7h13.6v13.6h-13.6zM1180.3 2328.9h13.6v13.6h-13.6zM1183.2 2330.2h13.6v13.6h-13.6zM1183.5 2329.8h13.6v13.6h-13.6zM1186.3 2331h13.6v13.6h-13.6zM1189.2 2332.2h13.6v13.6h-13.6zM1189.4 2332h13.6v13.6h-13.6zM1192.4 2333.1h13.6v13.6h-13.6zM1195.4 2334.2h13.6v13.6h-13.6zM1195.4 2334.2h13.6v13.6h-13.6zM1198.3 2333.4h13.6v13.6h-13.6zM1201.2 2332.5h13.6v13.6h-13.6zM1203.2 2331.2h13.6v13.6h-13.6zM1207.1 2330.9h13.6v13.6h-13.6zM1210 2330h13.6v13.6h-13.6zM1212.9 2329.2h13.6v13.6h-13.6zM1212.9 2329.2h13.6v13.6h-13.6zM1215.7 2330.8h13.6v13.6h-13.6zM1218.5 2332.3h13.6v13.6h-13.6zM1220.2 2333.2h13.6v13.6h-13.6zM1224.1 2335.4h13.6v13.6h-13.6zM1227.8 2337.9h13.6v13.6h-13.6zM1229.7 2338.6h13.6v13.6h-13.6zM1232.5 2340.1h13.6v13.6h-13.6zM1235.3 2341.7h13.6v13.6h-13.6zM1235.3 2341.7h13.6v13.6h-13.6zM1242.7 2304.4h13.6v13.6h-13.6zM1247.7 2365.3h13.6v13.6h-13.6zM1254.7 2157.7h13.6v13.6h-13.6zM1260.1 2392.7h13.6v13.6h-13.6zM1268.8 2292.6h13.6v13.6h-13.6zM1275.1 2320.5h13.6v13.6h-13.6zM1282.5 2294.4h13.6v13.6h-13.6zM1290 2253.5h13.6v13.6h-13.6zM1296.2 2238.6h13.6v13.6h-13.6zM1299.9 2272.1h13.6v13.6h-13.6zM1312.4 2262.2h13.6v13.6h-13.6zM1312.4 2262.2h13.6v13.6h-13.6zM1316.4 2267.2h13.6v13.6h-13.6zM1319.2 2271.2h13.6v13.6h-13.6zM1320.4 2272.2h13.6v13.6h-13.6zM1324.3 2277.1h13.6v13.6h-13.6zM1325.7 2279.2h13.6v13.6h-13.6zM1328.3 2282.1h13.6v13.6h-13.6zM1332.3 2287.1h13.6v13.6h-13.6zM1332.3 2287.1h13.6v13.6h-13.6zM1335.2 2288h13.6v13.6h-13.6zM1338.1 2288.8h13.6v13.6h-13.6zM1340.2 2289.2h13.6v13.6h-13.6zM1343.9 2290.6h13.6v13.6h-13.6zM1348.2 2291.2h13.6v13.6h-13.6zM1349.7 2292.3h13.6v13.6h-13.6zM1352.6 2293.2h13.6v13.6h-13.6zM1355.5 2294h13.6v13.6h-13.6zM1357.2 2294.2h13.6v13.6h-13.6zM1361.3 2295.8h13.6v13.6h-13.6zM1364.2 2296.6h13.6v13.6h-13.6zM1367.1 2297.5h13.6v13.6h-13.6zM1367.1 2297.5h13.6v13.6h-13.6zM1372.1 2299.8h13.6v13.6h-13.6zM1374.2 2301.2h13.6v13.6h-13.6zM1377 2302.1h13.6v13.6h-13.6zM1382 2304.4h13.6v13.6h-13.6zM1382 2304.4h13.6v13.6h-13.6zM1384.5 2306.6h13.6v13.6h-13.6zM1387 2308.8h13.6v13.6h-13.6zM1389.5 2310.9h13.6v13.6h-13.6zM1392 2313.1h13.6v13.6h-13.6zM1392 2313.1h13.6v13.6h-13.6zM1395.3 2308.1h13.6v13.6h-13.6zM1398.6 2303.2h13.6v13.6h-13.6zM1401.9 2298.2h13.6v13.6h-13.6zM1401.9 2298.2h13.6v13.6h-13.6zM1404.1 2292.9h13.6v13.6h-13.6zM1406.3 2287.6h13.6v13.6h-13.6zM1408.4 2282.4h13.6v13.6h-13.6zM1410.6 2277.1h13.6v13.6h-13.6zM1410.6 2277.1h13.6v13.6h-13.6zM1414.4 2272.1h13.6v13.6h-13.6zM1414.4 2272.1h13.6v13.6h-13.6zM1421.9 2324.2h13.6v13.6h-13.6zM1427.1 2551h13.6v13.6h-13.6zM1431.8 2316.9h13.6v13.6h-13.6zM1433 2412.6h13.6v13.6h-13.6zM1434.3 2443.7h13.6v13.6h-13.6zM1436.3 2198.7h13.6v13.6h-13.6zM1436.8 2393.9h13.6v13.6h-13.6z" fill="#515151"/>
<path d="M498.1 2117.5L500.4 2276.8L503.6 2420.4L501.1 2446.5L499.4 2459L509.8 2472.7L513.5 2497.4L519.8 2517.3L522.2 2511.2L528.5 2496.2L533.4 2478.9L533.4 2478.9L537.2 2466.4L544.6 2454L557.1 2437.8L569.5 2424.2L582 2414.2L599.4 2403L614.3 2393L626.7 2379.4L636.7 2366.9L644.2 2362L654.1 2363.2L669 2370.7L684 2378.1L706.4 2385.6L731.2 2391.8L756.1 2396.8L781 2394.3L800.9 2390.6L818.3 2381.9L834.9 2372.1L852.3 2363.4L869.8 2352.2L882.2 2338.5L894.6 2333.5L895.9 2318.6L903.3 2334.8L907.1 2358.4L913.3 2344.7L919.5 2311.1L919.5 2311.1L929.5 2322.3L941.9 2329.8L953.1 2323.6L964.3 2329.8L974.3 2339.8L989.2 2349.7L995.4 2354.7L996.6 2312.4L999.1 2269L1005.4 2276.4L1009.1 2318.6L1012.8 2283.9L1015.3 2256.5L1019.8 2227.2L1025.3 2259L1026.5 2293.9L1029 2274L1031.5 2291.4L1038.9 2271.5L1041.4 2288.9L1043.2 2311.2L1047.6 2355.9L1051.4 2385.8L1052.6 2414.4L1052.6 2399.5L1059 2386L1059 2386L1066.3 2384.5L1068.8 2398.2L1083.7 2395.7L1101.1 2399.5L1118.5 2403.2L1138.4 2404.4L1158.3 2400.7L1178.3 2395.7L1199.8 2392L1214.7 2385.8L1227.1 2383.3L1239.6 2387L1254.5 2379.6L1274.4 2378.3L1286.8 2370.9L1299.3 2367.1L1309.2 2374.6L1314.2 2387L1324.2 2392L1336.6 2397L1349 2409.4L1361.5 2419.4L1373.9 2431.8L1386.4 2449.2L1398.8 2464.2L1405 2476.6L1406.3 2485.3L1408.7 2501.5L1410.7 2511.4L1413.7 2527.6L1416.2 2536.3L1419.9 2543.8L1423.7 2522.6L1424.9 2476.6L1424.9 2433.1L1431.1 2382.1L1433.6 2333.5L1429.9 2322.3L1431.6 2261.5L1435.6 2251.6L1439.8 2143.3L1438.6 2135.9L1439.1 2128.4L1442.3 2111" fill="none" stroke="#F03E3E" stroke-width="1.9" stroke-linejoin="round" /><path d="M490.5 2117.5a7.6 7.6 0 1 0 15.2 0a7.6 7.6 0 1 0 -15.2 0zM492.8 2276.8a7.6 7.6 0 1 0 15.2 0a7.6 7.6 0 1 0 -15.2 0zM496 2420.4a7.6 7.6 0 1 0 15.2 0a7.6 7.6 0 1 0 -15.2 0zM493.5 2446.5a7.6 7.6 0 1 0 15.2 0a7.6 7.6 0 1 0 -15.2 0zM491.8 2459a7.6 7.6 0 1 0 15.2 0a7.6 7.6 0 1 0 -15.2 0zM502.2 2472.7a7.6 7.6 0 1 0 15.2 0a7.6 7.6 0 1 0 -15.2 0zM505.9 2497.4a7.6 7.6 0 1 0 15.2 0a7.6 7.6 0 1 0 -15.2 0zM512.2 2517.3a7.6 7.6 0 1 0 15.2 0a7.6 7.6 0 1 0 -15.2 0zM514.6 2511.2a7.6 7.6 0 1 0 15.2 0a7.6 7.6 0 1 0 -15.2 0zM520.9 2496.2a7.6 7.6 0 1 0 15.2 0a7.6 7.6 0 1 0 -15.2 0zM525.8 2478.9a7.6 7.6 0 1 0 15.2 0a7.6 7.6 0 1 0 -15.2 0z" fill="#F03E3E"/><path d="M533.4 2478.9L537.2 2466.4L544.6 2454L557.1 2437.8L569.5 2424.2L582 2414.2L599.4 2403L614.3 2393L626.7 2379.4L636.7 2366.9L644.2 2362L654.1 2363.2L669 2370.7L684 2378.1L706.4 2385.6L731.2 2391.8L756.1 2396.8L781 2394.3L800.9 2390.6L818.3 2381.9L834.9 2372.1L852.3 2363.4L869.8 2352.2L882.2 2338.5L894.6 2333.5" fill="none" stroke="#F03E3E" stroke-width="15.2" stroke-linejoin="round" stroke-linecap="round" stroke-dasharray="0 6.8"/><path d="M525.8 2478.9a7.6 7.6 0 1 0 15.2 0a7.6 7.6 0 1 0 -15.2 0zM887 2333.5a7.6 7.6 0 1 0 15.2 0a7.6 7.6 0 1 0 -15.2 0z" fill="#F03E3E"/><path d="M888.3 2318.6a7.6 7.6 0 1 0 15.2 0a7.6 7.6 0 1 0 -15.2 0zM895.7 2334.8a7.6 7.6 0 1 0 15.2 0a7.6 7.6 0 1 0 -15.2 0zM899.5 2358.4a7.6 7.6 0 1 0 15.2 0a7.6 7.6 0 1 0 -15.2 0zM905.7 2344.7a7.6 7.6 0 1 0 15.2 0a7.6 7.6 0 1 0 -15.2 0zM911.9 2311.1a7.6 7.6 0 1 0 15.2 0a7.6 7.6 0 1 0 -15.2 0z" fill="#F03E3E"/><path d="M919.5 2311.1L929.5 2322.3L941.9 2329.8L953.1 2323.6L964.3 2329.8L974.3 2339.8L989.2 2349.7L995.4 2354.7" fill="none" stroke="#F03E3E" stroke-width="15.2" stroke-linejoin="round" stroke-linecap="round" stroke-dasharray="0 6.8"/><path d="M911.9 2311.1a7.6 7.6 0 1 0 15.2 0a7.6 7.6 0 1 0 -15.2 0zM987.8 2354.7a7.6 7.6 0 1 0 15.2 0a7.6 7.6 0 1 0 -15.2 0z" fill="#F03E3E"/><path d="M989 2312.4a7.6 7.6 0 1 0 15.2 0a7.6 7.6 0 1 0 -15.2 0zM991.5 2269a7.6 7.6 0 1 0 15.2 0a7.6 7.6 0 1 0 -15.2 0zM997.8 2276.4a7.6 7.6 0 1 0 15.2 0a7.6 7.6 0 1 0 -15.2 0zM1001.5 2318.6a7.6 7.6 0 1 0 15.2 0a7.6 7.6 0 1 0 -15.2 0zM1005.2 2283.9a7.6 7.6 0 1 0 15.2 0a7.6 7.6 0 1 0 -15.2 0zM1007.7 2256.5a7.6 7.6 0 1 0 15.2 0a7.6 7.6 0 1 0 -15.2 0zM1012.2 2227.2a7.6 7.6 0 1 0 15.2 0a7.6 7.6 0 1 0 -15.2 0zM1017.7 2259a7.6 7.6 0 1 0 15.2 0a7.6 7.6 0 1 0 -15.2 0zM1018.9 2293.9a7.6 7.6 0 1 0 15.2 0a7.6 7.6 0 1 0 -15.2 0zM1021.4 2274a7.6 7.6 0 1 0 15.2 0a7.6 7.6 0 1 0 -15.2 0zM1023.9 2291.4a7.6 7.6 0 1 0 15.2 0a7.6 7.6 0 1 0 -15.2 0zM1031.3 2271.5a7.6 7.6 0 1 0 15.2 0a7.6 7.6 0 1 0 -15.2 0zM1033.8 2288.9a7.6 7.6 0 1 0 15.2 0a7.6 7.6 0 1 0 -15.2 0zM1035.6 2311.2a7.6 7.6 0 1 0 15.2 0a7.6 7.6 0 1 0 -15.2 0zM1040 2355.9a7.6 7.6 0 1 0 15.2 0a7.6 7.6 0 1 0 -15.2 0zM1043.8 2385.8a7.6 7.6 0 1 0 15.2 0a7.6 7.6 0 1 0 -15.2 0zM1045 2414.4a7.6 7.6 0 1 0 15.2 0a7.6 7.6 0 1 0 -15.2 0zM1045 2399.5a7.6 7.6 0 1 0 15.2 0a7.6 7.6 0 1 0 -15.2 0zM1051.4 2386a7.6 7.6 0 1 0 15.2 0a7.6 7.6 0 1 0 -15.2 0z" fill="#F03E3E"/><path d="M1059 2386L1066.3 2384.5L1068.8 2398.2L1083.7 2395.7L1101.1 2399.5L1118.5 2403.2L1138.4 2404.4L1158.3 2400.7L1178.3 2395.7L1199.8 2392L1214.7 2385.8L1227.1 2383.3L1239.6 2387L1254.5 2379.6L1274.4 2378.3L1286.8 2370.9L1299.3 2367.1L1309.2 2374.6L1314.2 2387L1324.2 2392L1336.6 2397L1349 2409.4L1361.5 2419.4L1373.9 2431.8L1386.4 2449.2L1398.8 2464.2L1405 2476.6L1406.3 2485.3" fill="none" stroke="#F03E3E" stroke-width="15.2" stroke-linejoin="round" stroke-linecap="round" stroke-dasharray="0 6.8"/><path d="M1051.4 2386a7.6 7.6 0 1 0 15.2 0a7.6 7.6 0 1 0 -15.2 0zM1398.7 2485.3a7.6 7.6 0 1 0 15.2 0a7.6 7.6 0 1 0 -15.2 0z" fill="#F03E3E"/><path d="M1401.1 2501.5a7.6 7.6 0 1 0 15.2 0a7.6 7.6 0 1 0 -15.2 0zM1403.1 2511.4a7.6 7.6 0 1 0 15.2 0a7.6 7.6 0 1 0 -15.2 0zM1406.1 2527.6a7.6 7.6 0 1 0 15.2 0a7.6 7.6 0 1 0 -15.2 0zM1408.6 2536.3a7.6 7.6 0 1 0 15.2 0a7.6 7.6 0 1 0 -15.2 0zM1412.3 2543.8a7.6 7.6 0 1 0 15.2 0a7.6 7.6 0 1 0 -15.2 0zM1416.1 2522.6a7.6 7.6 0 1 0 15.2 0a7.6 7.6 0 1 0 -15.2 0zM1417.3 2476.6a7.6 7.6 0 1 0 15.2 0a7.6 7.6 0 1 0 -15.2 0zM1417.3 2433.1a7.6 7.6 0 1 0 15.2 0a7.6 7.6 0 1 0 -15.2 0zM1423.5 2382.1a7.6 7.6 0 1 0 15.2 0a7.6 7.6 0 1 0 -15.2 0zM1426 2333.5a7.6 7.6 0 1 0 15.2 0a7.6 7.6 0 1 0 -15.2 0zM1422.3 2322.3a7.6 7.6 0 1 0 15.2 0a7.6 7.6 0 1 0 -15.2 0zM1424 2261.5a7.6 7.6 0 1 0 15.2 0a7.6 7.6 0 1 0 -15.2 0zM1428 2251.6a7.6 7.6 0 1 0 15.2 0a7.6 7.6 0 1 0 -15.2 0zM1432.2 2143.3a7.6 7.6 0 1 0 15.2 0a7.6 7.6 0 1 0 -15.2 0zM1431 2135.9a7.6 7.6 0 1 0 15.2 0a7.6 7.6 0 1 0 -15.2 0zM1431.5 2128.4a7.6 7.6 0 1 0 15.2 0a7.6 7.6 0 1 0 -15.2 0zM1434.7 2111a7.6 7.6 0 1 0 15.2 0a7.6 7.6 0 1 0 -15.2 0z" fill="#F03E3E"/>
<path d="M497.9 2713.9L499.9 2518L501.6 2536.7L503.1 2485.7L504.8 2459L507.3 2441.6L509.8 2424.2L511.5 2429.5L514.8 2359.5L517.3 2507.5L519.8 2301L523 2267.5L526 2374.4L529.7 2362L533.4 2359.2L537 2356.5L540.8 2354.2L544.6 2352L547.8 2348.8L551 2345.5L554.3 2342.6L557.6 2339.6L565.8 2317.2L570.8 2413L575 2021L579.5 2374.4L584 2315.9L590.7 2340.8L599.4 2327.1L602.7 2326.3L606 2325.5L609 2325L612 2324.5L615 2323.9L618 2323.4L627.2 2338.3L637.9 2317.2L642.9 2349.5L647.9 2370.7L654.1 2391.8L660.3 2406.8L665.3 2419.2L671.5 2431.6L676.5 2432.2L681.5 2432.9L688.9 2452.8L692.6 2454.7L696.4 2456.5L701.4 2471.4L707.6 2369.4L713.8 2537.7L720 2500.2L726.9 2510.5L733 2536L739.9 2481.3L747.4 2468.9L753.6 2449L761.1 2468.9L764.9 2469.6L768.6 2470.2L771.8 2472.3L775 2474.5L778 2476.7L781 2478.9L786 2476.4L790.9 2473.9L794.6 2473.9L798.4 2473.9L803.4 2487.6L807.8 2484.5L812.1 2481.4L823.3 2500L828.3 2476.4L832.4 2472.9L839.3 2551.7L846.1 2634.4L852.3 2472.1L859.8 2508.8L866 2496.5L872.2 2471.6L878.5 2602L884.2 2544.9L889.7 2572.2L895.9 2579.6L902.1 2551.1L908.3 2467.9L913.7 2513.8L919.2 2547.4L925 2559.7L931.5 2494L937.4 2585.8L943.4 2553.6L948.1 2451.7L954.3 2470.4L956.8 2471.7L959.3 2472.9L965.5 2445.5L969.3 2510.7L973 2285.2L976.2 2522.5L980.5 2392L983 2314.9L985.4 2337.3L987.9 2547.4L990.4 2461.7L991.7 2439.3L996.6 2485.3L997.9 2537.5L1001.6 2460.4L1002.9 2585.8L1006.8 2519.5L1011.6 2562.2L1012.8 2542.3L1015.6 2738.9L1017 2599.5L1024 2549.8L1027 2633.1L1029 2324.8L1031 2431.8L1031.5 2501.5L1035.2 2526.3L1037.7 2564.7L1038.9 2499L1041.4 2393.3L1043.9 2369.6L1046.4 2339.8L1047 2330.2L1055.1 2313.6L1058 2318.5L1061 2322.5L1065.4 2326.3L1068.8 2332.3L1071.2 2332.1L1075.5 2329L1080 2327.3L1084 2335.5L1087.5 2343.5L1091.5 2343L1095.4 2341.8L1098.6 2358.4L1104.4 2236.7L1110.3 2464.2L1117.3 2312.5L1123.5 2406.9L1129.7 2379.6L1137.2 2397L1140.3 2393.9L1143.4 2390.8L1146.5 2393.2L1149.5 2395.5L1152.7 2397.5L1155.9 2399.5L1159 2402.5L1162 2405.5L1165.2 2408.4L1168.5 2411.3L1173.4 2411.6L1178.3 2411.9L1181.5 2411.9L1184.8 2411.9L1188.4 2411.9L1192 2411.9L1195.9 2411.9L1199.8 2411.9L1204.2 2413.2L1208.5 2414.4L1214.7 2405.7L1218.1 2403.1L1221.5 2400.5L1225 2398.1L1228.4 2395.7L1231.7 2396.3L1235 2397L1238.5 2397.6L1242.1 2398.2L1245.8 2398.2L1249.5 2398.2L1254.5 2353.5L1260.7 2410.7L1267.4 2189.4L1274.4 2426.8L1279.9 2321.8L1286.8 2349.7L1293.1 2324.9L1298 2311.9L1302.3 2269L1308.5 2253.6L1313 2293.7L1321.7 2280.2L1325 2280.8L1328 2281.5L1331 2282.1L1334.1 2282.7L1337 2283.5L1340 2284.5L1343 2285.5L1346.5 2286.4L1349.5 2288L1352.5 2290L1355.7 2291.8L1359 2293.9L1361.5 2296.5L1364 2299.5L1366.5 2302.5L1368.9 2305.5L1371.4 2309.5L1373.9 2313.8L1376.4 2319L1378.9 2324.5L1380.8 2328.5L1382.7 2332.5L1384.5 2336.1L1386.4 2339.8L1388 2343.1L1389.5 2346.5L1391 2350L1392.6 2353.5L1394.1 2357L1395.7 2360.5L1397.2 2363.8L1398.8 2367.1L1403.8 2375.8L1408.8 2373.9L1413.7 2372.1L1417.5 2369.6L1421.2 2367.1L1424.9 2378.3L1425 2393.3L1426.2 2416.9L1429.9 2500.2L1431.1 2436.8L1432.3 2783.8L1435 2832.1L1435.7 2667.7L1437.1 2729.9L1437.8 2798.3L1439.2 2794.1L1440.6 2761.7L1442 2691.2L1442.3 2347.2" fill="none" stroke="#1A6FDF" stroke-width="2.2" stroke-linejoin="round" /><path d="M497.9 2703.9l8.6 15h-17.2zM499.9 2508l8.6 15h-17.2zM501.6 2526.7l8.6 15h-17.2zM503.1 2475.7l8.6 15h-17.2zM504.8 2449l8.6 15h-17.2zM507.3 2431.6l8.6 15h-17.2zM509.8 2414.2l8.6 15h-17.2zM511.5 2419.5l8.6 15h-17.2zM514.8 2349.5l8.6 15h-17.2zM517.3 2497.5l8.6 15h-17.2zM519.8 2291l8.6 15h-17.2zM523 2257.5l8.6 15h-17.2zM526 2364.4l8.6 15h-17.2zM529.7 2352l8.6 15h-17.2zM533.4 2349.2l8.6 15h-17.2zM537 2346.5l8.6 15h-17.2zM540.8 2344.2l8.6 15h-17.2zM544.6 2342l8.6 15h-17.2zM547.8 2338.8l8.6 15h-17.2zM551 2335.5l8.6 15h-17.2zM554.3 2332.6l8.6 15h-17.2zM557.6 2329.6l8.6 15h-17.2zM565.8 2307.2l8.6 15h-17.2zM570.8 2403l8.6 15h-17.2zM575 2011l8.6 15h-17.2zM579.5 2364.4l8.6 15h-17.2zM584 2305.9l8.6 15h-17.2zM590.7 2330.8l8.6 15h-17.2zM599.4 2317.1l8.6 15h-17.2zM602.7 2316.3l8.6 15h-17.2zM606 2315.5l8.6 15h-17.2zM609 2315l8.6 15h-17.2zM612 2314.5l8.6 15h-17.2zM615 2313.9l8.6 15h-17.2zM618 2313.4l8.6 15h-17.2zM627.2 2328.3l8.6 15h-17.2zM637.9 2307.2l8.6 15h-17.2zM642.9 2339.5l8.6 15h-17.2zM647.9 2360.7l8.6 15h-17.2zM654.1 2381.8l8.6 15h-17.2zM660.3 2396.8l8.6 15h-17.2zM665.3 2409.2l8.6 15h-17.2zM671.5 2421.6l8.6 15h-17.2zM676.5 2422.2l8.6 15h-17.2zM681.5 2422.9l8.6 15h-17.2zM688.9 2442.8l8.6 15h-17.2zM692.6 2444.7l8.6 15h-17.2zM696.4 2446.5l8.6 15h-17.2zM701.4 2461.4l8.6 15h-17.2zM707.6 2359.4l8.6 15h-17.2zM713.8 2527.7l8.6 15h-17.2zM720 2490.2l8.6 15h-17.2zM726.9 2500.5l8.6 15h-17.2zM733 2526l8.6 15h-17.2zM739.9 2471.3l8.6 15h-17.2zM747.4 2458.9l8.6 15h-17.2zM753.6 2439l8.6 15h-17.2zM761.1 2458.9l8.6 15h-17.2zM764.9 2459.6l8.6 15h-17.2zM768.6 2460.2l8.6 15h-17.2zM771.8 2462.3l8.6 15h-17.2zM775 2464.5l8.6 15h-17.2zM778 2466.7l8.6 15h-17.2zM781 2468.9l8.6 15h-17.2zM786 2466.4l8.6 15h-17.2zM790.9 2463.9l8.6 15h-17.2zM794.6 2463.9l8.6 15h-17.2zM798.4 2463.9l8.6 15h-17.2zM803.4 2477.6l8.6 15h-17.2zM807.8 2474.5l8.6 15h-17.2zM812.1 2471.4l8.6 15h-17.2zM823.3 2490l8.6 15h-17.2zM828.3 2466.4l8.6 15h-17.2zM832.4 2462.9l8.6 15h-17.2zM839.3 2541.7l8.6 15h-17.2zM846.1 2624.4l8.6 15h-17.2zM852.3 2462.1l8.6 15h-17.2zM859.8 2498.8l8.6 15h-17.2zM866 2486.5l8.6 15h-17.2zM872.2 2461.6l8.6 15h-17.2zM878.5 2592l8.6 15h-17.2zM884.2 2534.9l8.6 15h-17.2zM889.7 2562.2l8.6 15h-17.2zM895.9 2569.6l8.6 15h-17.2zM902.1 2541.1l8.6 15h-17.2zM908.3 2457.9l8.6 15h-17.2zM913.7 2503.8l8.6 15h-17.2zM919.2 2537.4l8.6 15h-17.2zM925 2549.7l8.6 15h-17.2zM931.5 2484l8.6 15h-17.2zM937.4 2575.8l8.6 15h-17.2zM943.4 2543.6l8.6 15h-17.2zM948.1 2441.7l8.6 15h-17.2zM954.3 2460.4l8.6 15h-17.2zM956.8 2461.7l8.6 15h-17.2zM959.3 2462.9l8.6 15h-17.2zM965.5 2435.5l8.6 15h-17.2zM969.3 2500.7l8.6 15h-17.2zM973 2275.2l8.6 15h-17.2zM976.2 2512.5l8.6 15h-17.2zM980.5 2382l8.6 15h-17.2zM983 2304.9l8.6 15h-17.2zM985.4 2327.3l8.6 15h-17.2zM987.9 2537.4l8.6 15h-17.2zM990.4 2451.7l8.6 15h-17.2zM991.7 2429.3l8.6 15h-17.2zM996.6 2475.3l8.6 15h-17.2zM997.9 2527.5l8.6 15h-17.2zM1001.6 2450.4l8.6 15h-17.2zM1002.9 2575.8l8.6 15h-17.2zM1006.8 2509.5l8.6 15h-17.2zM1011.6 2552.2l8.6 15h-17.2zM1012.8 2532.3l8.6 15h-17.2zM1015.6 2728.9l8.6 15h-17.2zM1017 2589.5l8.6 15h-17.2zM1024 2539.8l8.6 15h-17.2zM1027 2623.1l8.6 15h-17.2zM1029 2314.8l8.6 15h-17.2zM1031 2421.8l8.6 15h-17.2zM1031.5 2491.5l8.6 15h-17.2zM1035.2 2516.3l8.6 15h-17.2zM1037.7 2554.7l8.6 15h-17.2zM1038.9 2489l8.6 15h-17.2zM1041.4 2383.3l8.6 15h-17.2zM1043.9 2359.6l8.6 15h-17.2zM1046.4 2329.8l8.6 15h-17.2zM1047 2320.2l8.6 15h-17.2zM1055.1 2303.6l8.6 15h-17.2zM1058 2308.5l8.6 15h-17.2zM1061 2312.5l8.6 15h-17.2zM1065.4 2316.3l8.6 15h-17.2zM1068.8 2322.3l8.6 15h-17.2zM1071.2 2322.1l8.6 15h-17.2zM1075.5 2319l8.6 15h-17.2zM1080 2317.3l8.6 15h-17.2zM1084 2325.5l8.6 15h-17.2zM1087.5 2333.5l8.6 15h-17.2zM1091.5 2333l8.6 15h-17.2zM1095.4 2331.8l8.6 15h-17.2zM1098.6 2348.4l8.6 15h-17.2zM1104.4 2226.7l8.6 15h-17.2zM1110.3 2454.2l8.6 15h-17.2zM1117.3 2302.5l8.6 15h-17.2zM1123.5 2396.9l8.6 15h-17.2zM1129.7 2369.6l8.6 15h-17.2zM1137.2 2387l8.6 15h-17.2zM1140.3 2383.9l8.6 15h-17.2zM1143.4 2380.8l8.6 15h-17.2zM1146.5 2383.2l8.6 15h-17.2zM1149.5 2385.5l8.6 15h-17.2zM1152.7 2387.5l8.6 15h-17.2zM1155.9 2389.5l8.6 15h-17.2zM1159 2392.5l8.6 15h-17.2zM1162 2395.5l8.6 15h-17.2zM1165.2 2398.4l8.6 15h-17.2zM1168.5 2401.3l8.6 15h-17.2zM1173.4 2401.6l8.6 15h-17.2zM1178.3 2401.9l8.6 15h-17.2zM1181.5 2401.9l8.6 15h-17.2zM1184.8 2401.9l8.6 15h-17.2zM1188.4 2401.9l8.6 15h-17.2zM1192 2401.9l8.6 15h-17.2zM1195.9 2401.9l8.6 15h-17.2zM1199.8 2401.9l8.6 15h-17.2zM1204.2 2403.2l8.6 15h-17.2zM1208.5 2404.4l8.6 15h-17.2zM1214.7 2395.7l8.6 15h-17.2zM1218.1 2393.1l8.6 15h-17.2zM1221.5 2390.5l8.6 15h-17.2zM1225 2388.1l8.6 15h-17.2zM1228.4 2385.7l8.6 15h-17.2zM1231.7 2386.3l8.6 15h-17.2zM1235 2387l8.6 15h-17.2zM1238.5 2387.6l8.6 15h-17.2zM1242.1 2388.2l8.6 15h-17.2zM1245.8 2388.2l8.6 15h-17.2zM1249.5 2388.2l8.6 15h-17.2zM1254.5 2343.5l8.6 15h-17.2zM1260.7 2400.7l8.6 15h-17.2zM1267.4 2179.4l8.6 15h-17.2zM1274.4 2416.8l8.6 15h-17.2zM1279.9 2311.8l8.6 15h-17.2zM1286.8 2339.7l8.6 15h-17.2zM1293.1 2314.9l8.6 15h-17.2zM1298 2301.9l8.6 15h-17.2zM1302.3 2259l8.6 15h-17.2zM1308.5 2243.6l8.6 15h-17.2zM1313 2283.7l8.6 15h-17.2zM1321.7 2270.2l8.6 15h-17.2zM1325 2270.8l8.6 15h-17.2zM1328 2271.5l8.6 15h-17.2zM1331 2272.1l8.6 15h-17.2zM1334.1 2272.7l8.6 15h-17.2zM1337 2273.5l8.6 15h-17.2zM1340 2274.5l8.6 15h-17.2zM1343 2275.5l8.6 15h-17.2zM1346.5 2276.4l8.6 15h-17.2zM1349.5 2278l8.6 15h-17.2zM1352.5 2280l8.6 15h-17.2zM1355.7 2281.8l8.6 15h-17.2zM1359 2283.9l8.6 15h-17.2zM1361.5 2286.5l8.6 15h-17.2zM1364 2289.5l8.6 15h-17.2zM1366.5 2292.5l8.6 15h-17.2zM1368.9 2295.5l8.6 15h-17.2zM1371.4 2299.5l8.6 15h-17.2zM1373.9 2303.8l8.6 15h-17.2zM1376.4 2309l8.6 15h-17.2zM1378.9 2314.5l8.6 15h-17.2zM1380.8 2318.5l8.6 15h-17.2zM1382.7 2322.5l8.6 15h-17.2zM1384.5 2326.1l8.6 15h-17.2zM1386.4 2329.8l8.6 15h-17.2zM1388 2333.1l8.6 15h-17.2zM1389.5 2336.5l8.6 15h-17.2zM1391 2340l8.6 15h-17.2zM1392.6 2343.5l8.6 15h-17.2zM1394.1 2347l8.6 15h-17.2zM1395.7 2350.5l8.6 15h-17.2zM1397.2 2353.8l8.6 15h-17.2zM1398.8 2357.1l8.6 15h-17.2zM1403.8 2365.8l8.6 15h-17.2zM1408.8 2363.9l8.6 15h-17.2zM1413.7 2362.1l8.6 15h-17.2zM1417.5 2359.6l8.6 15h-17.2zM1421.2 2357.1l8.6 15h-17.2zM1424.9 2368.3l8.6 15h-17.2zM1425 2383.3l8.6 15h-17.2zM1426.2 2406.9l8.6 15h-17.2zM1429.9 2490.2l8.6 15h-17.2zM1431.1 2426.8l8.6 15h-17.2zM1432.3 2773.8l8.6 15h-17.2zM1435 2822.1l8.6 15h-17.2zM1435.7 2657.7l8.6 15h-17.2zM1437.1 2719.9l8.6 15h-17.2zM1437.8 2788.3l8.6 15h-17.2zM1439.2 2784.1l8.6 15h-17.2zM1440.6 2751.7l8.6 15h-17.2zM1442 2681.2l8.6 15h-17.2zM1442.3 2337.2l8.6 15h-17.2z" fill="#1A6FDF"/>
</g>
<g id="legends">
<rect x="1357" y="32" width="482.6" height="245" fill="#fff" stroke="#000" stroke-width="2.2"/><path d="M1364.3 76.4H1509.8" stroke="#515151" stroke-width="1.9"/><path d="M1364.3 155H1509.8" stroke="#F03E3E" stroke-width="1.9"/><path d="M1364.3 234H1509.8" stroke="#1A6FDF" stroke-width="1.9"/><path d="M1430.1 68.9h15v15h-15z" fill="#515151"/><path d="M1428.7 155a8 8 0 1 0 16 0a8 8 0 1 0 -16 0z" fill="#F03E3E"/><path d="M1437 223.3l9.3 16h-18.6z" fill="#1A6FDF"/><text y="95.1" font-size="52.5"><tspan x="1523.12" letter-spacing="-1.37">Tip</tspan> <tspan x="1617.14" letter-spacing="2.54">section</tspan></text><text y="174.2" font-size="52.5"><tspan x="1520.69" letter-spacing="4.2">Mid</tspan> <tspan x="1636.04" letter-spacing="2.42">section</tspan></text><text y="252.9" font-size="52.5"><tspan x="1520.69" letter-spacing="3.2">Hub</tspan> <tspan x="1646.24" letter-spacing="2.22">section</tspan></text>
<rect x="1318" y="1786" width="444.2" height="225.6" fill="#fff" stroke="#000" stroke-width="2.2"/><path d="M1324.7 1827H1458.9" stroke="#515151" stroke-width="1.8"/><path d="M1324.7 1898.8H1458.9" stroke="#F03E3E" stroke-width="1.8"/><path d="M1324.7 1971.7H1458.9" stroke="#1A6FDF" stroke-width="1.8"/><path d="M1385.7 1820.2h13.6v13.6h-13.6z" fill="#515151"/><path d="M1384 1898.8a7.4 7.4 0 1 0 14.8 0a7.4 7.4 0 1 0 -14.8 0z" fill="#F03E3E"/><path d="M1391.5 1961.7l8.6 15h-17.2z" fill="#1A6FDF"/><text y="1844.4" font-size="49.5"><tspan x="1469.39" letter-spacing="-0.14">Tip</tspan> <tspan x="1556.92" letter-spacing="1.84">section</tspan></text><text y="1915.9" font-size="49.5"><tspan x="1467.24" letter-spacing="4.2">Mid</tspan> <tspan x="1574.32" letter-spacing="1.84">section</tspan></text><text y="1989.1" font-size="49.5"><tspan x="1467.24" letter-spacing="2.62">Hub</tspan> <tspan x="1583.42" letter-spacing="1.66">section</tspan></text>
</g>
<g id="labels">
<text y="1261" font-size="52.5"><tspan x="97.66" letter-spacing="1.3">100</tspan></text>
<text y="1077.5" font-size="52.5"><tspan x="97.66" letter-spacing="1.3">150</tspan></text>
<text y="894" font-size="52.5"><tspan x="97.66" letter-spacing="1.3">200</tspan></text>
<text y="710.5" font-size="52.5"><tspan x="97.66" letter-spacing="1.3">250</tspan></text>
<text y="527" font-size="52.5"><tspan x="97.66" letter-spacing="1.3">300</tspan></text>
<text y="343.5" font-size="52.5"><tspan x="97.66" letter-spacing="1.3">350</tspan></text>
<text y="160" font-size="52.5"><tspan x="97.66" letter-spacing="1.3">400</tspan></text>
<text y="1324.6" font-size="52.5"><tspan x="168.21">−</tspan><tspan x="190.3" letter-spacing="1.98">100</tspan></text>
<text y="1324.6" font-size="52.5"><tspan x="574.21">−</tspan><tspan x="595.2" letter-spacing="1.86">50</tspan></text>
<text y="1324.6" font-size="52.5"><tspan x="989.95">0</tspan></text>
<text y="1324.6" font-size="52.5"><tspan x="1363.7" letter-spacing="1.56">50</tspan></text>
<text y="1242.2" font-size="52.5"><tspan x="420.42" letter-spacing="2.75">Suction</tspan> <tspan x="630.74" letter-spacing="2.14">surface</tspan></text>
<text y="1242.2" font-size="52.5"><tspan x="1132.19" letter-spacing="1.44">Pressure</tspan> <tspan x="1368.84" letter-spacing="1.87">surface</tspan></text>
<text y="1435" font-size="52.5"><tspan x="619.92" letter-spacing="2.05">Surface</tspan> <tspan x="828.3" letter-spacing="2.96">distance</tspan><tspan x="1020.25" dy="2" font-size="50" class="cj">（</tspan><tspan dy="-2" x="1072.1">m</tspan><tspan x="1121.4">m</tspan><tspan x="1178.3" dy="2" font-size="50" class="cj">）</tspan></text>
<text y="0" font-size="52.5" transform="translate(66.2,928.9) rotate(-90)"><tspan x="-4.31" letter-spacing="2.33">Mises</tspan> <tspan x="156.24" letter-spacing="1.57">stress</tspan><tspan x="282.51" dy="-0.5" font-size="51.5" class="cj">（</tspan><tspan dy="0.5" x="333.7">M</tspan><tspan x="383.9">P</tspan><tspan x="417.6">a</tspan><tspan x="447.63" dy="-0.5" font-size="51.5" class="cj">）</tspan></text>
<text y="2833" font-size="49.5"><tspan x="186.37" letter-spacing="1.2">80</tspan></text>
<text y="2664.1" font-size="49.5"><tspan x="157.64" letter-spacing="1.2">100</tspan></text>
<text y="2495.1" font-size="49.5"><tspan x="157.64" letter-spacing="1.2">120</tspan></text>
<text y="2326.2" font-size="49.5"><tspan x="157.64" letter-spacing="1.2">140</tspan></text>
<text y="2157.2" font-size="49.5"><tspan x="157.64" letter-spacing="1.2">160</tspan></text>
<text y="1988.3" font-size="49.5"><tspan x="157.64" letter-spacing="1.2">180</tspan></text>
<text y="2976" font-size="49.5"><tspan x="223.36">−</tspan><tspan x="244.83" letter-spacing="0.91">100</tspan></text>
<text y="2976" font-size="49.5"><tspan x="596.26">−</tspan><tspan x="616.82" letter-spacing="0.36">50</tspan></text>
<text y="2976" font-size="49.5"><tspan x="979.87">0</tspan></text>
<text y="2976" font-size="49.5"><tspan x="1324.02" letter-spacing="1.36">50</tspan></text>
<text y="2899.5" font-size="49.5"><tspan x="457.15" letter-spacing="1.73">Suction</tspan> <tspan x="650.02" letter-spacing="1.18">surface</tspan></text>
<text y="2898.5" font-size="49.5"><tspan x="1111.04" letter-spacing="0.74">Pressure</tspan> <tspan x="1329.32" letter-spacing="1.26">surface</tspan></text>
<text y="3078" font-size="49.5"><tspan x="639.75" letter-spacing="1.24">Surface</tspan> <tspan x="831.12" letter-spacing="2.1">distance</tspan><tspan x="1008.24" dy="2" font-size="47" class="cj">（</tspan><tspan dy="-2" x="1056.8">m</tspan><tspan x="1105.7">m</tspan><tspan x="1154.94" dy="2" font-size="47" class="cj">）</tspan></text>
<text y="0" font-size="49.5" transform="translate(130.2,2611.6) rotate(-90)"><tspan x="-4.06" letter-spacing="1.4">Mises</tspan> <tspan x="143.72" letter-spacing="0.81">stress</tspan><tspan x="259.79" dy="-0.5" font-size="47.5" class="cj">（</tspan><tspan dy="0.5" x="307.9">M</tspan><tspan x="352.6">P</tspan><tspan x="383.8">a</tspan><tspan x="412.92" dy="-0.5" font-size="47.5" class="cj">）</tspan></text>
<text x="870.3" y="1652.5" font-size="85" text-anchor="middle" style="font-family:'Liberation Serif',serif">(a)</text>
<text x="871" y="3283" font-size="85" text-anchor="middle" style="font-family:'Liberation Serif',serif">(b)</text>
</g>
</svg>
</body></html>
